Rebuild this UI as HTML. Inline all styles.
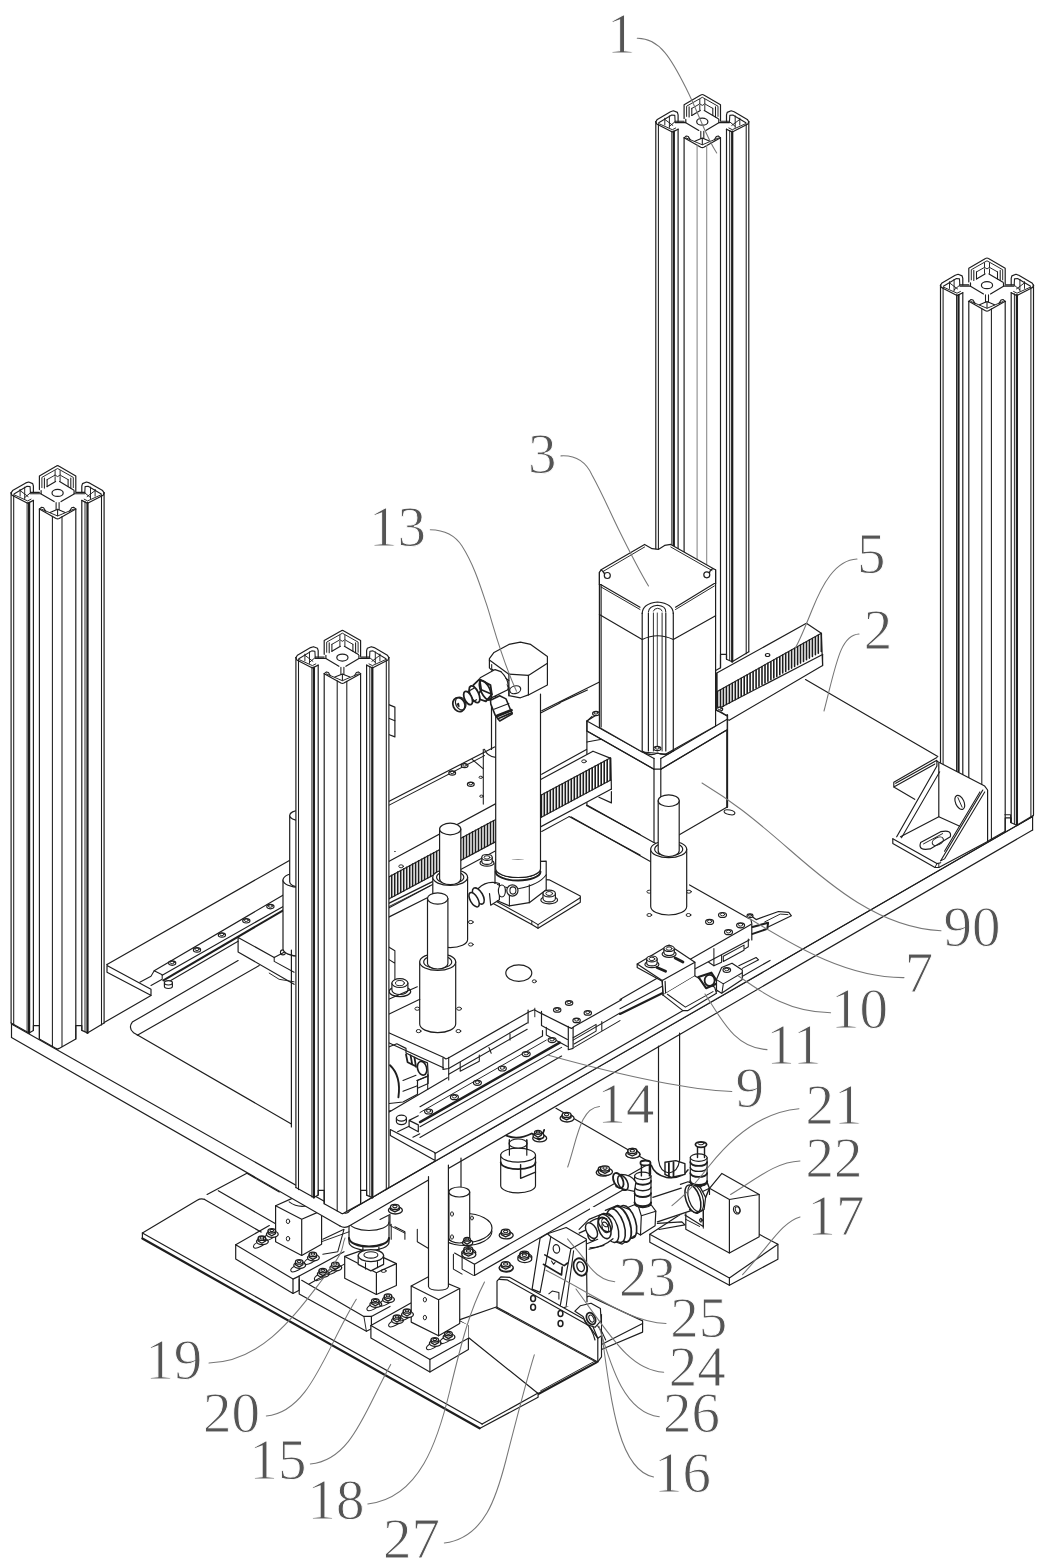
<!DOCTYPE html>
<html><head><meta charset="utf-8"><title>Figure</title>
<style>
html,body{margin:0;padding:0;background:#fff}
svg{display:block}
text{font-family:"Liberation Serif","Noto Serif CJK SC",serif}
path,ellipse{stroke-linecap:round;stroke-linejoin:round}
</style></head><body>
<svg width="1045" height="1567" viewBox="0 0 1045 1567">
<rect width="1045" height="1567" fill="#fff"/>
<path d="M142.4 1233.0 L197.2 1200.2 Q200.9 1197.9 204.6 1199.4" stroke="#1e1e1e" stroke-width="1.18" fill="none" />
<path d="M204.6 1199.4 L269.3 1236.8" stroke="#1e1e1e" stroke-width="1.18" fill="none" />
<path d="M207.1 1194.5 L246.9 1173.3 L279.3 1192.0" stroke="#1e1e1e" stroke-width="1.18" fill="none" />
<path d="M218.3 1190.7 L275.6 1223.8" stroke="#1e1e1e" stroke-width="1.18" fill="none" />
<path d="M142.4 1233.0 L142.4 1238.5" stroke="#1e1e1e" stroke-width="1.18" fill="none" />
<path d="M142.4 1233.0 L482.1 1424.1" stroke="#1e1e1e" stroke-width="1.18" fill="none" />
<path d="M142.4 1238.5 L479.6 1428.3" stroke="#1e1e1e" stroke-width="2.242" fill="none" />
<path d="M479.6 1428.4 L538.1 1397.3 L538.1 1393.0 L482.1 1424.1" stroke="#1e1e1e" stroke-width="1.18" fill="none" />
<path d="M538.8 1393.8 L596.6 1362.4" stroke="#1e1e1e" stroke-width="2.124" fill="none" />
<path d="M540.6 1390.8 L595.3 1360.9" stroke="#1e1e1e" stroke-width="0.944" fill="none" />
<path d="M468.4 1325.8 L468.4 1344.5" stroke="#1e1e1e" stroke-width="1.18" fill="none" />
<path d="M458.5 1320.1 L497.0 1306.7" stroke="#1e1e1e" stroke-width="1.18" fill="none" />
<path d="M468.4 1337.5 L538.1 1393.5" stroke="#1e1e1e" stroke-width="1.18" fill="none" />
<path d="M468.4 1325.8 L458.5 1320.1" stroke="#1e1e1e" stroke-width="1.062" fill="none" />
<path d="M468.4 1344.5 L429.9 1359.4" stroke="#1e1e1e" stroke-width="1.18" fill="none" />
<path d="M235.7 1244.7 L235.7 1259.1 L293.0 1293.5 L299.2 1290.3 L346.5 1262.9 L346.5 1251.7 L289.2 1219.3 Z" stroke="none" stroke-width="1.18" fill="#fff" />
<path d="M235.7 1244.7 L235.7 1259.1 L293.0 1293.5 L293.0 1279.1 L235.7 1244.7" stroke="#1e1e1e" stroke-width="1.18" fill="none" />
<path d="M293.0 1279.1 L299.2 1276.1 L299.2 1290.3 L293.0 1293.5" stroke="#1e1e1e" stroke-width="1.18" fill="none" />
<path d="M235.7 1244.7 L269.3 1225.6M299.2 1276.1 L344.0 1251.7" stroke="#1e1e1e" stroke-width="1.18" fill="none" />
<path d="M275.6 1205.7 L275.6 1241.7 L301.7 1255.4 L321.6 1244.2 L321.6 1210.6 L295.5 1196.9 Z" stroke="#1e1e1e" stroke-width="1.18" fill="#fff" />
<path d="M275.6 1205.7 L301.7 1219.3 L321.6 1210.6M301.7 1219.3 L301.7 1255.4" stroke="#1e1e1e" stroke-width="1.18" fill="none" />
<ellipse cx="288.0" cy="1221.3" rx="1.7" ry="2.3" transform="rotate(0 288.0 1221.3)" stroke="#1e1e1e" stroke-width="0.944" fill="none"/>
<ellipse cx="288.0" cy="1238.7" rx="1.7" ry="2.3" transform="rotate(0 288.0 1238.7)" stroke="#1e1e1e" stroke-width="0.944" fill="none"/>
<path d="M289.2 1201.9 Q299.2 1209.4 311.6 1204.4" stroke="#1e1e1e" stroke-width="1.062" fill="none" />
<ellipse cx="259.4" cy="1244.2" rx="6.5" ry="2.6" transform="rotate(-28 259.4 1244.2)" stroke="#1e1e1e" stroke-width="1.062" fill="none"/>
<ellipse cx="262.4" cy="1241.6" rx="5.9" ry="3.1" transform="rotate(0 262.4 1241.6)" stroke="#1e1e1e" stroke-width="1.298" fill="#fff"/>
<path d="M258.2 1238.2 L258.2 1241.0 L261.9 1243.2 L265.6 1241.0 L265.6 1238.2" stroke="#1e1e1e" stroke-width="1.298" fill="#fff" />
<ellipse cx="261.9" cy="1238.2" rx="3.7" ry="2.2" transform="rotate(0 261.9 1238.2)" stroke="#1e1e1e" stroke-width="1.298" fill="#fff"/>
<ellipse cx="261.9" cy="1237.9" rx="1.9" ry="1.1" transform="rotate(0 261.9 1237.9)" stroke="#1e1e1e" stroke-width="1.062" fill="none"/>
<ellipse cx="269.3" cy="1236.8" rx="6.5" ry="2.6" transform="rotate(-28 269.3 1236.8)" stroke="#1e1e1e" stroke-width="1.062" fill="none"/>
<ellipse cx="272.3" cy="1234.2" rx="5.9" ry="3.1" transform="rotate(0 272.3 1234.2)" stroke="#1e1e1e" stroke-width="1.298" fill="#fff"/>
<path d="M268.1 1230.8 L268.1 1233.6 L271.8 1235.8 L275.5 1233.6 L275.5 1230.8" stroke="#1e1e1e" stroke-width="1.298" fill="#fff" />
<ellipse cx="271.8" cy="1230.8" rx="3.7" ry="2.2" transform="rotate(0 271.8 1230.8)" stroke="#1e1e1e" stroke-width="1.298" fill="#fff"/>
<ellipse cx="271.8" cy="1230.5" rx="1.9" ry="1.1" transform="rotate(0 271.8 1230.5)" stroke="#1e1e1e" stroke-width="1.062" fill="none"/>
<ellipse cx="296.7" cy="1267.9" rx="6.5" ry="2.6" transform="rotate(-28 296.7 1267.9)" stroke="#1e1e1e" stroke-width="1.062" fill="none"/>
<ellipse cx="299.7" cy="1265.3" rx="5.9" ry="3.1" transform="rotate(0 299.7 1265.3)" stroke="#1e1e1e" stroke-width="1.298" fill="#fff"/>
<path d="M295.5 1261.9 L295.5 1264.7 L299.2 1266.9 L302.9 1264.7 L302.9 1261.9" stroke="#1e1e1e" stroke-width="1.298" fill="#fff" />
<ellipse cx="299.2" cy="1261.9" rx="3.7" ry="2.2" transform="rotate(0 299.2 1261.9)" stroke="#1e1e1e" stroke-width="1.298" fill="#fff"/>
<ellipse cx="299.2" cy="1261.6" rx="1.9" ry="1.1" transform="rotate(0 299.2 1261.6)" stroke="#1e1e1e" stroke-width="1.062" fill="none"/>
<ellipse cx="310.4" cy="1260.4" rx="6.5" ry="2.6" transform="rotate(-28 310.4 1260.4)" stroke="#1e1e1e" stroke-width="1.062" fill="none"/>
<ellipse cx="313.4" cy="1257.8" rx="5.9" ry="3.1" transform="rotate(0 313.4 1257.8)" stroke="#1e1e1e" stroke-width="1.298" fill="#fff"/>
<path d="M309.2 1254.4 L309.2 1257.2 L312.9 1259.4 L316.6 1257.2 L316.6 1254.4" stroke="#1e1e1e" stroke-width="1.298" fill="#fff" />
<ellipse cx="312.9" cy="1254.4" rx="3.7" ry="2.2" transform="rotate(0 312.9 1254.4)" stroke="#1e1e1e" stroke-width="1.298" fill="#fff"/>
<ellipse cx="312.9" cy="1254.1" rx="1.9" ry="1.1" transform="rotate(0 312.9 1254.1)" stroke="#1e1e1e" stroke-width="1.062" fill="none"/>
<ellipse cx="320.3" cy="1276.6" rx="6.5" ry="2.6" transform="rotate(-28 320.3 1276.6)" stroke="#1e1e1e" stroke-width="1.062" fill="none"/>
<ellipse cx="323.3" cy="1274.0" rx="5.9" ry="3.1" transform="rotate(0 323.3 1274.0)" stroke="#1e1e1e" stroke-width="1.298" fill="#fff"/>
<path d="M319.1 1270.6 L319.1 1273.4 L322.8 1275.6 L326.5 1273.4 L326.5 1270.6" stroke="#1e1e1e" stroke-width="1.298" fill="#fff" />
<ellipse cx="322.8" cy="1270.6" rx="3.7" ry="2.2" transform="rotate(0 322.8 1270.6)" stroke="#1e1e1e" stroke-width="1.298" fill="#fff"/>
<ellipse cx="322.8" cy="1270.3" rx="1.9" ry="1.1" transform="rotate(0 322.8 1270.3)" stroke="#1e1e1e" stroke-width="1.062" fill="none"/>
<ellipse cx="332.8" cy="1270.4" rx="6.5" ry="2.6" transform="rotate(-28 332.8 1270.4)" stroke="#1e1e1e" stroke-width="1.062" fill="none"/>
<ellipse cx="335.8" cy="1267.8" rx="5.9" ry="3.1" transform="rotate(0 335.8 1267.8)" stroke="#1e1e1e" stroke-width="1.298" fill="#fff"/>
<path d="M331.6 1264.4 L331.6 1267.2 L335.3 1269.4 L339.0 1267.2 L339.0 1264.4" stroke="#1e1e1e" stroke-width="1.298" fill="#fff" />
<ellipse cx="335.3" cy="1264.4" rx="3.7" ry="2.2" transform="rotate(0 335.3 1264.4)" stroke="#1e1e1e" stroke-width="1.298" fill="#fff"/>
<ellipse cx="335.3" cy="1264.1" rx="1.9" ry="1.1" transform="rotate(0 335.3 1264.1)" stroke="#1e1e1e" stroke-width="1.062" fill="none"/>
<path d="M299.2 1279.1 L299.2 1294.0 L366.4 1331.3 L371.4 1328.8 L371.4 1316.4" stroke="#1e1e1e" stroke-width="1.18" fill="none" />
<path d="M301.7 1280.3 L363.9 1316.4 L371.4 1316.4 L390.0 1306.4" stroke="#1e1e1e" stroke-width="1.18" fill="none" />
<path d="M363.9 1316.4 L366.4 1331.3" stroke="#1e1e1e" stroke-width="0.944" fill="none" />
<path d="M309.1 1284.0 L346.5 1262.9" stroke="#1e1e1e" stroke-width="1.062" fill="none" />
<path d="M344.7 1256.4 L344.7 1278.2 L376.4 1294.5 L396.4 1285.5 L396.4 1263.6 L365.5 1249.1 Z" stroke="#1e1e1e" stroke-width="1.18" fill="#fff" />
<path d="M344.7 1256.4 L376.4 1272.7 L396.4 1263.6M376.4 1272.7 L376.4 1294.5" stroke="#1e1e1e" stroke-width="1.18" fill="none" />
<path d="M349.0 1216.0 L349.0 1242.0 A20.0 8.5 0 0 0 389.0 1242.0 L389.0 1216.0" stroke="#1e1e1e" stroke-width="1.18" fill="#fff" />
<path d="M349 1238 A20 8.5 0 0 0 389 1238" stroke="#1e1e1e" stroke-width="2.124" fill="none" />
<path d="M349 1222 A20 8.5 0 0 0 389 1222" stroke="#1e1e1e" stroke-width="1.062" fill="none" />
<path d="M362.9 1247.3 L362.9 1254.5M378.9 1247.3 L378.9 1254.5" stroke="#1e1e1e" stroke-width="1.18" fill="none" />
<path d="M358.2 1255.6 L358.2 1264.4 L370.9 1270.9 L383.6 1264.4 L383.6 1255.6" stroke="#1e1e1e" stroke-width="1.18" fill="#fff" />
<ellipse cx="370.9" cy="1255.6" rx="12.7" ry="6.0" transform="rotate(0 370.9 1255.6)" stroke="#1e1e1e" stroke-width="1.18" fill="#fff"/>
<ellipse cx="370.9" cy="1254.9" rx="7.0" ry="3.2" transform="rotate(0 370.9 1254.9)" stroke="#1e1e1e" stroke-width="1.062" fill="none"/>
<path d="M365.5 1262.9 L365.5 1269.1M377.5 1261.5 L377.5 1267.6" stroke="#1e1e1e" stroke-width="1.062" fill="none" />
<ellipse cx="383.6" cy="1270.9" rx="2.6" ry="1.5" transform="rotate(0 383.6 1270.9)" stroke="#1e1e1e" stroke-width="0.944" fill="none"/>
<ellipse cx="372.8" cy="1306.8" rx="6.5" ry="2.6" transform="rotate(-28 372.8 1306.8)" stroke="#1e1e1e" stroke-width="1.062" fill="none"/>
<ellipse cx="375.8" cy="1304.2" rx="5.9" ry="3.1" transform="rotate(0 375.8 1304.2)" stroke="#1e1e1e" stroke-width="1.298" fill="#fff"/>
<path d="M371.6 1300.8 L371.6 1303.6 L375.3 1305.8 L379.0 1303.6 L379.0 1300.8" stroke="#1e1e1e" stroke-width="1.298" fill="#fff" />
<ellipse cx="375.3" cy="1300.8" rx="3.7" ry="2.2" transform="rotate(0 375.3 1300.8)" stroke="#1e1e1e" stroke-width="1.298" fill="#fff"/>
<ellipse cx="375.3" cy="1300.5" rx="1.9" ry="1.1" transform="rotate(0 375.3 1300.5)" stroke="#1e1e1e" stroke-width="1.062" fill="none"/>
<ellipse cx="385.5" cy="1302.1" rx="6.5" ry="2.6" transform="rotate(-28 385.5 1302.1)" stroke="#1e1e1e" stroke-width="1.062" fill="none"/>
<ellipse cx="388.5" cy="1299.5" rx="5.9" ry="3.1" transform="rotate(0 388.5 1299.5)" stroke="#1e1e1e" stroke-width="1.298" fill="#fff"/>
<path d="M384.3 1296.1 L384.3 1298.9 L388.0 1301.1 L391.7 1298.9 L391.7 1296.1" stroke="#1e1e1e" stroke-width="1.298" fill="#fff" />
<ellipse cx="388.0" cy="1296.1" rx="3.7" ry="2.2" transform="rotate(0 388.0 1296.1)" stroke="#1e1e1e" stroke-width="1.298" fill="#fff"/>
<ellipse cx="388.0" cy="1295.8" rx="1.9" ry="1.1" transform="rotate(0 388.0 1295.8)" stroke="#1e1e1e" stroke-width="1.062" fill="none"/>
<path d="M322.8 1239.2 L344.0 1229.3 L337.8 1251.7 L322.8 1254.2" stroke="#1e1e1e" stroke-width="1.062" fill="none" />
<path d="M321.6 1241.7 L349.0 1231.8" stroke="#1e1e1e" stroke-width="0.944" fill="none" />
<path d="M370.9 1325.5 L370.9 1338.0 L429.9 1372.0 L468.4 1349.5 L468.4 1325.0 L410.9 1301.8 Z" stroke="none" stroke-width="1.18" fill="#fff" />
<path d="M370.9 1325.5 L429.9 1359.4 L468.4 1338.3" stroke="#1e1e1e" stroke-width="1.18" fill="none" />
<path d="M429.9 1359.4 L429.9 1372.0" stroke="#1e1e1e" stroke-width="1.18" fill="none" />
<path d="M370.9 1325.5 L370.9 1338.0 L429.9 1372.0 L468.4 1349.5 L468.4 1338.3" stroke="#1e1e1e" stroke-width="1.18" fill="none" />
<path d="M370.9 1325.5 L410.9 1303.0" stroke="#1e1e1e" stroke-width="1.18" fill="none" />
<path d="M411.2 1286.0 L411.2 1322.1 L438.6 1335.8 L459.7 1323.4 L459.7 1288.5 L429.9 1276.1 Z" stroke="#1e1e1e" stroke-width="1.18" fill="#fff" />
<path d="M411.2 1286.0 L438.6 1299.7 L459.7 1288.5M438.6 1299.7 L438.6 1335.8" stroke="#1e1e1e" stroke-width="1.18" fill="none" />
<ellipse cx="424.9" cy="1299.7" rx="1.6" ry="2.3" transform="rotate(0 424.9 1299.7)" stroke="#1e1e1e" stroke-width="0.944" fill="none"/>
<ellipse cx="424.9" cy="1317.6" rx="1.6" ry="2.3" transform="rotate(0 424.9 1317.6)" stroke="#1e1e1e" stroke-width="0.944" fill="none"/>
<ellipse cx="432.3" cy="1345.8" rx="6.5" ry="2.6" transform="rotate(-28 432.3 1345.8)" stroke="#1e1e1e" stroke-width="1.062" fill="none"/>
<ellipse cx="435.3" cy="1343.2" rx="5.9" ry="3.1" transform="rotate(0 435.3 1343.2)" stroke="#1e1e1e" stroke-width="1.298" fill="#fff"/>
<path d="M431.1 1339.8 L431.1 1342.6 L434.8 1344.8 L438.5 1342.6 L438.5 1339.8" stroke="#1e1e1e" stroke-width="1.298" fill="#fff" />
<ellipse cx="434.8" cy="1339.8" rx="3.7" ry="2.2" transform="rotate(0 434.8 1339.8)" stroke="#1e1e1e" stroke-width="1.298" fill="#fff"/>
<ellipse cx="434.8" cy="1339.5" rx="1.9" ry="1.1" transform="rotate(0 434.8 1339.5)" stroke="#1e1e1e" stroke-width="1.062" fill="none"/>
<ellipse cx="446.0" cy="1339.6" rx="6.5" ry="2.6" transform="rotate(-28 446.0 1339.6)" stroke="#1e1e1e" stroke-width="1.062" fill="none"/>
<ellipse cx="449.0" cy="1337.0" rx="5.9" ry="3.1" transform="rotate(0 449.0 1337.0)" stroke="#1e1e1e" stroke-width="1.298" fill="#fff"/>
<path d="M444.8 1333.6 L444.8 1336.4 L448.5 1338.6 L452.2 1336.4 L452.2 1333.6" stroke="#1e1e1e" stroke-width="1.298" fill="#fff" />
<ellipse cx="448.5" cy="1333.6" rx="3.7" ry="2.2" transform="rotate(0 448.5 1333.6)" stroke="#1e1e1e" stroke-width="1.298" fill="#fff"/>
<ellipse cx="448.5" cy="1333.3" rx="1.9" ry="1.1" transform="rotate(0 448.5 1333.3)" stroke="#1e1e1e" stroke-width="1.062" fill="none"/>
<ellipse cx="394.5" cy="1323.0" rx="6.5" ry="2.6" transform="rotate(-28 394.5 1323.0)" stroke="#1e1e1e" stroke-width="1.062" fill="none"/>
<ellipse cx="397.5" cy="1320.4" rx="5.9" ry="3.1" transform="rotate(0 397.5 1320.4)" stroke="#1e1e1e" stroke-width="1.298" fill="#fff"/>
<path d="M393.3 1317.0 L393.3 1319.8 L397.0 1322.0 L400.7 1319.8 L400.7 1317.0" stroke="#1e1e1e" stroke-width="1.298" fill="#fff" />
<ellipse cx="397.0" cy="1317.0" rx="3.7" ry="2.2" transform="rotate(0 397.0 1317.0)" stroke="#1e1e1e" stroke-width="1.298" fill="#fff"/>
<ellipse cx="397.0" cy="1316.7" rx="1.9" ry="1.1" transform="rotate(0 397.0 1316.7)" stroke="#1e1e1e" stroke-width="1.062" fill="none"/>
<ellipse cx="404.5" cy="1317.0" rx="6.5" ry="2.6" transform="rotate(-28 404.5 1317.0)" stroke="#1e1e1e" stroke-width="1.062" fill="none"/>
<ellipse cx="407.5" cy="1314.4" rx="5.9" ry="3.1" transform="rotate(0 407.5 1314.4)" stroke="#1e1e1e" stroke-width="1.298" fill="#fff"/>
<path d="M403.3 1311.0 L403.3 1313.8 L407.0 1316.0 L410.7 1313.8 L410.7 1311.0" stroke="#1e1e1e" stroke-width="1.298" fill="#fff" />
<ellipse cx="407.0" cy="1311.0" rx="3.7" ry="2.2" transform="rotate(0 407.0 1311.0)" stroke="#1e1e1e" stroke-width="1.298" fill="#fff"/>
<ellipse cx="407.0" cy="1310.7" rx="1.9" ry="1.1" transform="rotate(0 407.0 1310.7)" stroke="#1e1e1e" stroke-width="1.062" fill="none"/>
<path d="M649.8 1234.3 L649.8 1242.3 L729.4 1285.3 L777.9 1259.2 L777.9 1244.3 L759.2 1234.3 L699.5 1202.0 Z" stroke="#1e1e1e" stroke-width="1.18" fill="#fff" />
<path d="M649.8 1234.3 L729.4 1277.9 L777.9 1244.3M729.4 1277.9 L729.4 1285.3" stroke="#1e1e1e" stroke-width="1.18" fill="none" />
<path d="M709.5 1188.3 L685.8 1199.5 L685.8 1229.3 L729.4 1253.0 L759.2 1236.8 L759.2 1194.5 L721.9 1173.4 Z" stroke="#1e1e1e" stroke-width="1.18" fill="#fff" />
<path d="M709.5 1188.3 L729.4 1199.5 L759.2 1194.5M729.4 1199.5 L729.4 1253.0M709.5 1188.3 L709.5 1194.5" stroke="#1e1e1e" stroke-width="1.18" fill="none" />
<ellipse cx="736.8" cy="1209.9" rx="3.2" ry="4.2" transform="rotate(-20 736.8 1209.9)" stroke="#1e1e1e" stroke-width="1.18" fill="none"/>
<ellipse cx="737.6" cy="1209.9" rx="2.2" ry="3.2" transform="rotate(-20 737.6 1209.9)" stroke="#1e1e1e" stroke-width="0.944" fill="none"/>
<path d="M685.8 1199.5 L703.3 1206.9 L703.3 1228.1M685.8 1219.4 L699.5 1226.4" stroke="#1e1e1e" stroke-width="1.062" fill="none" />
<ellipse cx="700.8" cy="1219.9" rx="1.2" ry="1.6" transform="rotate(0 700.8 1219.9)" stroke="#1e1e1e" stroke-width="0.944" fill="none"/>
<path d="M474.5 1264.2 L474.5 1275.4 L650.6 1174.0 L650.6 1162.8 L556.0 1108.2 L454.6 1194.5 Z" stroke="none" stroke-width="1.18" fill="#fff" />
<path d="M454.6 1253.0 L474.5 1264.2 L650.6 1162.8M474.5 1264.2 L474.5 1275.4 L650.6 1174.0 L650.6 1162.8" stroke="#1e1e1e" stroke-width="1.18" fill="none" />
<path d="M556.0 1108.2 L650.6 1162.8" stroke="#1e1e1e" stroke-width="1.18" fill="none" />
<path d="M462.1 1251.7 L462.1 1269.1 L473.3 1275.4" stroke="#1e1e1e" stroke-width="1.062" fill="none" />
<path d="M453.4 1254.2 L453.4 1269.1 L462.1 1274.1" stroke="#1e1e1e" stroke-width="1.062" fill="none" />
<ellipse cx="468.8" cy="1252.6" rx="7.0" ry="3.7" transform="rotate(0 468.8 1252.6)" stroke="#1e1e1e" stroke-width="1.298" fill="#fff"/>
<path d="M463.9 1249.2 L463.9 1252.0 L468.3 1254.2 L472.7 1252.0 L472.7 1249.2" stroke="#1e1e1e" stroke-width="1.298" fill="#fff" />
<ellipse cx="468.3" cy="1249.2" rx="4.4" ry="2.6" transform="rotate(0 468.3 1249.2)" stroke="#1e1e1e" stroke-width="1.298" fill="#fff"/>
<ellipse cx="468.3" cy="1248.9" rx="2.2" ry="1.3" transform="rotate(0 468.3 1248.9)" stroke="#1e1e1e" stroke-width="1.062" fill="none"/>
<ellipse cx="506.2" cy="1235.2" rx="7.0" ry="3.7" transform="rotate(0 506.2 1235.2)" stroke="#1e1e1e" stroke-width="1.298" fill="#fff"/>
<path d="M501.3 1231.8 L501.3 1234.6 L505.7 1236.8 L510.1 1234.6 L510.1 1231.8" stroke="#1e1e1e" stroke-width="1.298" fill="#fff" />
<ellipse cx="505.7" cy="1231.8" rx="4.4" ry="2.6" transform="rotate(0 505.7 1231.8)" stroke="#1e1e1e" stroke-width="1.298" fill="#fff"/>
<ellipse cx="505.7" cy="1231.5" rx="2.2" ry="1.3" transform="rotate(0 505.7 1231.5)" stroke="#1e1e1e" stroke-width="1.062" fill="none"/>
<ellipse cx="603.2" cy="1172.5" rx="7.0" ry="3.7" transform="rotate(0 603.2 1172.5)" stroke="#1e1e1e" stroke-width="1.298" fill="#fff"/>
<path d="M598.3 1169.1 L598.3 1171.9 L602.7 1174.1 L607.1 1171.9 L607.1 1169.1" stroke="#1e1e1e" stroke-width="1.298" fill="#fff" />
<ellipse cx="602.7" cy="1169.1" rx="4.4" ry="2.6" transform="rotate(0 602.7 1169.1)" stroke="#1e1e1e" stroke-width="1.298" fill="#fff"/>
<ellipse cx="602.7" cy="1168.8" rx="2.2" ry="1.3" transform="rotate(0 602.7 1168.8)" stroke="#1e1e1e" stroke-width="1.062" fill="none"/>
<ellipse cx="633.1" cy="1154.4" rx="7.0" ry="3.7" transform="rotate(0 633.1 1154.4)" stroke="#1e1e1e" stroke-width="1.298" fill="#fff"/>
<path d="M628.2 1151.0 L628.2 1153.8 L632.6 1156.0 L637.0 1153.8 L637.0 1151.0" stroke="#1e1e1e" stroke-width="1.298" fill="#fff" />
<ellipse cx="632.6" cy="1151.0" rx="4.4" ry="2.6" transform="rotate(0 632.6 1151.0)" stroke="#1e1e1e" stroke-width="1.298" fill="#fff"/>
<ellipse cx="632.6" cy="1150.7" rx="2.2" ry="1.3" transform="rotate(0 632.6 1150.7)" stroke="#1e1e1e" stroke-width="1.062" fill="none"/>
<ellipse cx="567.1" cy="1118.3" rx="7.0" ry="3.7" transform="rotate(0 567.1 1118.3)" stroke="#1e1e1e" stroke-width="1.298" fill="#fff"/>
<path d="M562.2 1114.9 L562.2 1117.7 L566.6 1119.9 L571.0 1117.7 L571.0 1114.9" stroke="#1e1e1e" stroke-width="1.298" fill="#fff" />
<ellipse cx="566.6" cy="1114.9" rx="4.4" ry="2.6" transform="rotate(0 566.6 1114.9)" stroke="#1e1e1e" stroke-width="1.298" fill="#fff"/>
<ellipse cx="566.6" cy="1114.6" rx="2.2" ry="1.3" transform="rotate(0 566.6 1114.6)" stroke="#1e1e1e" stroke-width="1.062" fill="none"/>
<ellipse cx="539.7" cy="1138.2" rx="7.0" ry="3.7" transform="rotate(0 539.7 1138.2)" stroke="#1e1e1e" stroke-width="1.298" fill="#fff"/>
<path d="M534.8 1134.8 L534.8 1137.6 L539.2 1139.8 L543.6 1137.6 L543.6 1134.8" stroke="#1e1e1e" stroke-width="1.298" fill="#fff" />
<ellipse cx="539.2" cy="1134.8" rx="4.4" ry="2.6" transform="rotate(0 539.2 1134.8)" stroke="#1e1e1e" stroke-width="1.298" fill="#fff"/>
<ellipse cx="539.2" cy="1134.5" rx="2.2" ry="1.3" transform="rotate(0 539.2 1134.5)" stroke="#1e1e1e" stroke-width="1.062" fill="none"/>
<ellipse cx="632.8" cy="1154.4" rx="7.0" ry="3.7" transform="rotate(0 632.8 1154.4)" stroke="#1e1e1e" stroke-width="1.298" fill="#fff"/>
<path d="M627.9 1151.0 L627.9 1153.8 L632.3 1156.0 L636.7 1153.8 L636.7 1151.0" stroke="#1e1e1e" stroke-width="1.298" fill="#fff" />
<ellipse cx="632.3" cy="1151.0" rx="4.4" ry="2.6" transform="rotate(0 632.3 1151.0)" stroke="#1e1e1e" stroke-width="1.298" fill="#fff"/>
<ellipse cx="632.3" cy="1150.7" rx="2.2" ry="1.3" transform="rotate(0 632.3 1150.7)" stroke="#1e1e1e" stroke-width="1.062" fill="none"/>
<ellipse cx="605.5" cy="1171.8" rx="7.0" ry="3.7" transform="rotate(0 605.5 1171.8)" stroke="#1e1e1e" stroke-width="1.298" fill="#fff"/>
<path d="M600.6 1168.4 L600.6 1171.2 L605.0 1173.4 L609.4 1171.2 L609.4 1168.4" stroke="#1e1e1e" stroke-width="1.298" fill="#fff" />
<ellipse cx="605.0" cy="1168.4" rx="4.4" ry="2.6" transform="rotate(0 605.0 1168.4)" stroke="#1e1e1e" stroke-width="1.298" fill="#fff"/>
<ellipse cx="605.0" cy="1168.1" rx="2.2" ry="1.3" transform="rotate(0 605.0 1168.1)" stroke="#1e1e1e" stroke-width="1.062" fill="none"/>
<path d="M500.7 1154.7 L500.7 1185.8 A17.4 7 0 0 0 535.5 1185.8L535.5 1185.8 L535.5 1154.7" stroke="#1e1e1e" stroke-width="1.18" fill="#fff" />
<path d="M500.7 1162.2 A17.4 7 0 0 0 535.5 1162.2" stroke="#1e1e1e" stroke-width="1.77" fill="none" />
<path d="M509.4 1139.8 L509.4 1158.4M526.8 1139.8 L526.8 1158.4" stroke="#1e1e1e" stroke-width="1.18" fill="none" />
<ellipse cx="518.1" cy="1155.2" rx="17.4" ry="7.0" transform="rotate(0 518.1 1155.2)" stroke="#1e1e1e" stroke-width="1.18" fill="#fff"/>
<ellipse cx="518.1" cy="1143.5" rx="9.0" ry="4.5" transform="rotate(0 518.1 1143.5)" stroke="#1e1e1e" stroke-width="1.18" fill="#fff"/>
<path d="M509.4 1139.8 L509.4 1155.2M526.8 1139.8 L526.8 1155.2" stroke="#1e1e1e" stroke-width="1.18" fill="none" />
<path d="M520.6 1164.6 L520.6 1178.3 L535.5 1172.1" stroke="#1e1e1e" stroke-width="1.416" fill="none" />
<path d="M504.4 1134.8 Q516.8 1141.0 531.8 1133.5 Q541.7 1139.8 544.2 1129.8" stroke="#1e1e1e" stroke-width="1.77" fill="none" />
<ellipse cx="538.5" cy="1135.7" rx="5.4" ry="2.9" transform="rotate(0 538.5 1135.7)" stroke="#1e1e1e" stroke-width="1.298" fill="#fff"/>
<path d="M534.6 1132.3 L534.6 1135.1 L538.0 1137.3 L541.4 1135.1 L541.4 1132.3" stroke="#1e1e1e" stroke-width="1.298" fill="#fff" />
<ellipse cx="538.0" cy="1132.3" rx="3.4" ry="2.0" transform="rotate(0 538.0 1132.3)" stroke="#1e1e1e" stroke-width="1.298" fill="#fff"/>
<ellipse cx="538.0" cy="1132.0" rx="1.7" ry="1.0" transform="rotate(0 538.0 1132.0)" stroke="#1e1e1e" stroke-width="1.062" fill="none"/>
<path d="M684.9 1215.0 L703.3 1226.5 L703.3 1208.1M657.4 1223.4 L681.9 1221.9 L684.9 1224.9 L658.9 1229.5" stroke="#1e1e1e" stroke-width="1.18" fill="none" />
<ellipse cx="701.0" cy="1220.4" rx="1.3" ry="1.8" transform="rotate(0 701.0 1220.4)" stroke="#1e1e1e" stroke-width="0.944" fill="none"/>
<path d="M652.8 1197.4 L688.0 1185.9 L697.2 1209.6 L657.4 1221.9 Z" stroke="none" stroke-width="1.18" fill="#fff" />
<path d="M652.8 1197.4 L688.0 1185.9M657.4 1221.9 L694.1 1209.6" stroke="#1e1e1e" stroke-width="1.18" fill="none" />
<path d="M680.4 1184.4 L688.0 1181.8 L700.3 1187.4 L705.6 1197.4 L704.1 1209.6 L697.2 1213.5 L689.5 1209.6" stroke="#1e1e1e" stroke-width="1.18" fill="#fff" />
<ellipse cx="692.9" cy="1198.9" rx="7.0" ry="14.5" transform="rotate(-18 692.9 1198.9)" stroke="#1e1e1e" stroke-width="1.534" fill="#fff"/>
<ellipse cx="695.7" cy="1198.1" rx="7.0" ry="14.0" transform="rotate(-18 695.7 1198.1)" stroke="#1e1e1e" stroke-width="1.18" fill="none"/>
<path d="M705.6 1197.4 L709.4 1188.2 L706.4 1180.5M700.3 1187.4 L706.4 1180.5" stroke="#1e1e1e" stroke-width="1.416" fill="none" />
<path d="M628.3 1207.3 L637.5 1203.5 L651.3 1205.0 L655.8 1211.2 L655.1 1225.7 L640.5 1234.9 L631.3 1229.5 Z" stroke="#1e1e1e" stroke-width="1.18" fill="#fff" />
<path d="M637.5 1203.5 L641.3 1215.8 L655.8 1211.2M641.3 1215.8 L640.5 1234.9" stroke="#1e1e1e" stroke-width="1.18" fill="none" />
<ellipse cx="627.5" cy="1221.9" rx="8.0" ry="17.0" transform="rotate(-18 627.5 1221.9)" stroke="#1e1e1e" stroke-width="1.652" fill="#fff"/>
<path d="M605.3 1210.4 L617.6 1205.3 L630.1 1209.6M613.0 1241.0 L622.2 1244.1 L634.4 1235.7" stroke="#1e1e1e" stroke-width="1.18" fill="none" />
<ellipse cx="621.4" cy="1224.2" rx="8.5" ry="18.5" transform="rotate(-18 621.4 1224.2)" stroke="#1e1e1e" stroke-width="1.77" fill="#fff"/>
<ellipse cx="616.0" cy="1225.7" rx="8.0" ry="17.5" transform="rotate(-18 616.0 1225.7)" stroke="#1e1e1e" stroke-width="1.534" fill="#fff"/>
<ellipse cx="610.7" cy="1228.0" rx="7.0" ry="15.0" transform="rotate(-18 610.7 1228.0)" stroke="#1e1e1e" stroke-width="1.416" fill="#fff"/>
<path d="M590.0 1215.8 L590.0 1205.0 L608.4 1215.8 L614.5 1237.2 L599.2 1249.4 L590.0 1247.9 Z" stroke="none" stroke-width="1.18" fill="#fff" />
<ellipse cx="604.5" cy="1228.0" rx="6.0" ry="11.0" transform="rotate(-18 604.5 1228.0)" stroke="#1e1e1e" stroke-width="1.534" fill="#fff"/>
<ellipse cx="605.3" cy="1227.4" rx="3.0" ry="5.5" transform="rotate(-18 605.3 1227.4)" stroke="#1e1e1e" stroke-width="1.18" fill="none"/>
<path d="M590.0 1221.9 Q599.2 1215.8 606.8 1218.8" stroke="#1e1e1e" stroke-width="1.18" fill="none" />
<path d="M590.0 1247.9 Q602.3 1247.9 613.0 1238.7" stroke="#1e1e1e" stroke-width="1.18" fill="none" />
<ellipse cx="591.5" cy="1235.7" rx="3.5" ry="5.0" transform="rotate(-18 591.5 1235.7)" stroke="#1e1e1e" stroke-width="1.416" fill="none"/>
<path d="M579.1 1233.1 L594.0 1226.4M582.8 1245.5 L597.7 1239.3" stroke="#1e1e1e" stroke-width="1.18" fill="none" />
<ellipse cx="591.5" cy="1230.6" rx="5.0" ry="8.5" transform="rotate(-30 591.5 1230.6)" stroke="#1e1e1e" stroke-width="1.416" fill="#fff"/>
<path d="M579.1 1229.3 L589.0 1219.4 L603.9 1213.2 L612.6 1216.9M589.0 1249.2 L603.9 1245.5" stroke="#1e1e1e" stroke-width="1.18" fill="none" />
<ellipse cx="605.2" cy="1223.1" rx="6.0" ry="9.5" transform="rotate(-30 605.2 1223.1)" stroke="#1e1e1e" stroke-width="1.534" fill="none"/>
<ellipse cx="605.2" cy="1222.6" rx="3.0" ry="4.5" transform="rotate(-30 605.2 1222.6)" stroke="#1e1e1e" stroke-width="1.062" fill="none"/>
<path d="M634.6 1175.9 L634.6 1203.9 A8.2 3.7 0 0 0 651.0 1203.9 L651.0 1175.9 Z" stroke="#1e1e1e" stroke-width="1.18" fill="#fff" />
<path d="M634.6 1181.0 A8.2 3.7 0 0 0 651.0 1181.0" stroke="#1e1e1e" stroke-width="1.888" fill="none" />
<path d="M634.6 1187.1 A8.2 3.7 0 0 0 651.0 1187.1" stroke="#1e1e1e" stroke-width="1.416" fill="none" />
<path d="M634.6 1193.3 A8.2 3.7 0 0 0 651.0 1193.3" stroke="#1e1e1e" stroke-width="1.888" fill="none" />
<path d="M634.6 1202.5 A8.2 3.7 0 0 0 651.0 1202.5" stroke="#1e1e1e" stroke-width="2.124" fill="none" />
<ellipse cx="642.8" cy="1175.9" rx="8.2" ry="3.7" transform="rotate(0 642.8 1175.9)" stroke="#1e1e1e" stroke-width="1.18" fill="#fff"/>
<path d="M641.4 1175.9 L641.4 1163.9 M649.4 1175.9 L649.4 1163.9" stroke="#1e1e1e" stroke-width="1.416" fill="none" />
<ellipse cx="645.4" cy="1162.9" rx="5.0" ry="2.4" transform="rotate(0 645.4 1162.9)" stroke="#1e1e1e" stroke-width="1.77" fill="#fff"/>
<path d="M690.3 1157.6 L690.3 1182.6 A8.4 3.8 0 0 0 707.1 1182.6 L707.1 1157.6 Z" stroke="#1e1e1e" stroke-width="1.18" fill="#fff" />
<path d="M690.3 1162.1 A8.4 3.8 0 0 0 707.1 1162.1" stroke="#1e1e1e" stroke-width="1.888" fill="none" />
<path d="M690.3 1167.6 A8.4 3.8 0 0 0 707.1 1167.6" stroke="#1e1e1e" stroke-width="1.416" fill="none" />
<path d="M690.3 1173.1 A8.4 3.8 0 0 0 707.1 1173.1" stroke="#1e1e1e" stroke-width="1.888" fill="none" />
<path d="M690.3 1181.3 A8.4 3.8 0 0 0 707.1 1181.3" stroke="#1e1e1e" stroke-width="2.124" fill="none" />
<ellipse cx="698.7" cy="1157.6" rx="8.4" ry="3.8" transform="rotate(0 698.7 1157.6)" stroke="#1e1e1e" stroke-width="1.18" fill="#fff"/>
<path d="M697.5 1157.6 L697.5 1145.6 M704.5 1157.6 L704.5 1145.6" stroke="#1e1e1e" stroke-width="1.416" fill="none" />
<ellipse cx="701.0" cy="1144.6" rx="5.6" ry="2.8" transform="rotate(0 701.0 1144.6)" stroke="#1e1e1e" stroke-width="1.77" fill="#fff"/>
<ellipse cx="701.0" cy="1143.6" rx="3.0" ry="1.2" transform="rotate(0 701.0 1143.6)" stroke="#1e1e1e" stroke-width="0.944" fill="none"/>
<path d="M620.6 1174.4 Q631.3 1174.4 635.9 1182.1 L634.4 1191.3 Q625.2 1189.7 616.0 1186.7 Z" stroke="#1e1e1e" stroke-width="1.18" fill="#fff" />
<ellipse cx="618.3" cy="1180.5" rx="4.5" ry="8.0" transform="rotate(-25 618.3 1180.5)" stroke="#1e1e1e" stroke-width="1.888" fill="#fff"/>
<ellipse cx="622.9" cy="1182.8" rx="4.5" ry="8.0" transform="rotate(-25 622.9 1182.8)" stroke="#1e1e1e" stroke-width="1.534" fill="none"/>
<path d="M651.3 1165.2 Q654.3 1174.4 666.6 1177.5 Q681.9 1179.0 688.0 1169.8" stroke="#1e1e1e" stroke-width="1.534" fill="none" />
<path d="M665.0 1162.2 L665.0 1174.4 L671.2 1177.5 L684.9 1174.4 L684.9 1163.7 L675.8 1160.6 L665.0 1162.2" stroke="#1e1e1e" stroke-width="1.416" fill="#fff" />
<path d="M668.9 1162.9 L668.9 1175.9M673.5 1162.2 L673.5 1176.7" stroke="#1e1e1e" stroke-width="1.77" fill="none" />
<path d="M589.1 1296.0 L642.6 1320.9 L642.6 1332.1 L601.5 1349.5 L597.8 1344.5 L549.3 1314.6 Z" stroke="#1e1e1e" stroke-width="1.18" fill="#fff" />
<path d="M601.5 1344.5 L642.6 1323.4" stroke="#1e1e1e" stroke-width="1.18" fill="none" />
<path d="M601.5 1314.6 L601.5 1349.5" stroke="#1e1e1e" stroke-width="1.062" fill="none" />
<path d="M497.0 1281.1 L497.0 1307.2 L597.8 1361.9 L601.5 1356.9 L601.5 1335.8 L597.8 1338.3 L591.6 1323.4 L509.5 1277.3 L500.8 1276.8 Z" stroke="#1e1e1e" stroke-width="1.18" fill="#fff" />
<path d="M499.5 1279.3 L507.0 1279.8 L589.1 1325.8 L597.8 1338.3 L597.8 1361.9" stroke="#1e1e1e" stroke-width="1.18" fill="none" />
<path d="M495.8 1307.7 L596.6 1362.4" stroke="#1e1e1e" stroke-width="1.062" fill="none" />
<ellipse cx="533.1" cy="1298.5" rx="2.4" ry="3.0" transform="rotate(0 533.1 1298.5)" stroke="#1e1e1e" stroke-width="1.534" fill="none"/>
<ellipse cx="533.1" cy="1307.2" rx="2.4" ry="3.0" transform="rotate(0 533.1 1307.2)" stroke="#1e1e1e" stroke-width="1.534" fill="none"/>
<ellipse cx="560.5" cy="1313.4" rx="2.4" ry="3.0" transform="rotate(0 560.5 1313.4)" stroke="#1e1e1e" stroke-width="1.534" fill="none"/>
<ellipse cx="560.5" cy="1323.4" rx="2.4" ry="3.0" transform="rotate(0 560.5 1323.4)" stroke="#1e1e1e" stroke-width="1.534" fill="none"/>
<path d="M540.1 1238.2 L547.5 1233.8 L566.2 1227.5 L586.3 1238.9 L587.0 1301.8 L576.3 1307.2 L560.2 1305.8 L566.9 1275.0 L540.1 1292.4 L532.1 1289.1 Z" stroke="none" stroke-width="1.18" fill="#fff" />
<path d="M532.1 1289.1 L540.1 1238.2 L547.5 1233.8 L566.2 1227.5 L586.3 1238.9 L587.0 1301.8" stroke="#1e1e1e" stroke-width="1.18" fill="none" />
<path d="M547.5 1233.8 L550.8 1236.8 L540.1 1292.4M540.1 1292.4 L532.1 1289.1" stroke="#1e1e1e" stroke-width="1.18" fill="none" />
<path d="M550.8 1236.8 L570.9 1248.9 L586.3 1240.2M570.9 1248.9 L560.2 1305.8" stroke="#1e1e1e" stroke-width="1.18" fill="none" />
<path d="M573.6 1250.9 L566.2 1305.8" stroke="#1e1e1e" stroke-width="1.062" fill="none" />
<path d="M544.8 1254.9 L564.2 1265.6 L567.6 1263.0M543.4 1264.3 L561.5 1275.0 L562.2 1267.0" stroke="#1e1e1e" stroke-width="1.652" fill="none" />
<path d="M548.8 1293.8 L552.2 1291.1 L558.9 1292.4 L558.9 1299.1" stroke="#1e1e1e" stroke-width="1.062" fill="none" />
<ellipse cx="556.4" cy="1248.9" rx="3.2" ry="4.3" transform="rotate(-10 556.4 1248.9)" stroke="#1e1e1e" stroke-width="1.18" fill="none"/>
<path d="M551.5 1261.0 L553.5 1264.3 L555.1 1262.3" stroke="#1e1e1e" stroke-width="1.062" fill="none" />
<ellipse cx="580.3" cy="1267.0" rx="6.5" ry="9.0" transform="rotate(-20 580.3 1267.0)" stroke="#1e1e1e" stroke-width="1.888" fill="#fff"/>
<ellipse cx="580.6" cy="1266.7" rx="3.5" ry="5.0" transform="rotate(-20 580.6 1266.7)" stroke="#1e1e1e" stroke-width="1.416" fill="none"/>
<path d="M574.9 1311.2 L580.3 1305.8 L591.0 1303.2 L600.4 1308.5 L601.1 1320.6 L595.0 1327.3 L587.0 1324.6 L583.0 1316.6 Z" stroke="#1e1e1e" stroke-width="1.18" fill="#fff" />
<ellipse cx="591.0" cy="1318.6" rx="4.2" ry="6.2" transform="rotate(-25 591.0 1318.6)" stroke="#1e1e1e" stroke-width="1.77" fill="#fff"/>
<ellipse cx="591.4" cy="1318.6" rx="2.2" ry="3.8" transform="rotate(-25 591.4 1318.6)" stroke="#1e1e1e" stroke-width="1.062" fill="none"/>
<path d="M584.3 1320.6 Q592.3 1328.6 595.0 1340.0" stroke="#1e1e1e" stroke-width="1.18" fill="none" />
<path d="M597.7 1325.9 Q603.1 1332.6 605.7 1340.0" stroke="#1e1e1e" stroke-width="1.062" fill="none" />
<ellipse cx="506.2" cy="1268.3" rx="7.0" ry="3.7" transform="rotate(0 506.2 1268.3)" stroke="#1e1e1e" stroke-width="1.298" fill="#fff"/>
<path d="M501.3 1264.9 L501.3 1267.7 L505.7 1269.9 L510.1 1267.7 L510.1 1264.9" stroke="#1e1e1e" stroke-width="1.298" fill="#fff" />
<ellipse cx="505.7" cy="1264.9" rx="4.4" ry="2.6" transform="rotate(0 505.7 1264.9)" stroke="#1e1e1e" stroke-width="1.298" fill="#fff"/>
<ellipse cx="505.7" cy="1264.6" rx="2.2" ry="1.3" transform="rotate(0 505.7 1264.6)" stroke="#1e1e1e" stroke-width="1.062" fill="none"/>
<ellipse cx="524.9" cy="1257.1" rx="7.0" ry="3.7" transform="rotate(0 524.9 1257.1)" stroke="#1e1e1e" stroke-width="1.298" fill="#fff"/>
<path d="M520.0 1253.7 L520.0 1256.5 L524.4 1258.7 L528.8 1256.5 L528.8 1253.7" stroke="#1e1e1e" stroke-width="1.298" fill="#fff" />
<ellipse cx="524.4" cy="1253.7" rx="4.4" ry="2.6" transform="rotate(0 524.4 1253.7)" stroke="#1e1e1e" stroke-width="1.298" fill="#fff"/>
<ellipse cx="524.4" cy="1253.4" rx="2.2" ry="1.3" transform="rotate(0 524.4 1253.4)" stroke="#1e1e1e" stroke-width="1.062" fill="none"/>
<ellipse cx="468.9" cy="1254.6" rx="7.0" ry="3.7" transform="rotate(0 468.9 1254.6)" stroke="#1e1e1e" stroke-width="1.298" fill="#fff"/>
<path d="M464.0 1251.2 L464.0 1254.0 L468.4 1256.2 L472.8 1254.0 L472.8 1251.2" stroke="#1e1e1e" stroke-width="1.298" fill="#fff" />
<ellipse cx="468.4" cy="1251.2" rx="4.4" ry="2.6" transform="rotate(0 468.4 1251.2)" stroke="#1e1e1e" stroke-width="1.298" fill="#fff"/>
<ellipse cx="468.4" cy="1250.9" rx="2.2" ry="1.3" transform="rotate(0 468.4 1250.9)" stroke="#1e1e1e" stroke-width="1.062" fill="none"/>
<ellipse cx="506.2" cy="1267.6" rx="7.0" ry="3.7" transform="rotate(0 506.2 1267.6)" stroke="#1e1e1e" stroke-width="1.298" fill="#fff"/>
<path d="M501.3 1264.2 L501.3 1267.0 L505.7 1269.2 L510.1 1267.0 L510.1 1264.2" stroke="#1e1e1e" stroke-width="1.298" fill="#fff" />
<ellipse cx="505.7" cy="1264.2" rx="4.4" ry="2.6" transform="rotate(0 505.7 1264.2)" stroke="#1e1e1e" stroke-width="1.298" fill="#fff"/>
<ellipse cx="505.7" cy="1263.9" rx="2.2" ry="1.3" transform="rotate(0 505.7 1263.9)" stroke="#1e1e1e" stroke-width="1.062" fill="none"/>
<ellipse cx="524.8" cy="1258.9" rx="7.0" ry="3.7" transform="rotate(0 524.8 1258.9)" stroke="#1e1e1e" stroke-width="1.298" fill="#fff"/>
<path d="M519.9 1255.5 L519.9 1258.3 L524.3 1260.5 L528.7 1258.3 L528.7 1255.5" stroke="#1e1e1e" stroke-width="1.298" fill="#fff" />
<ellipse cx="524.3" cy="1255.5" rx="4.4" ry="2.6" transform="rotate(0 524.3 1255.5)" stroke="#1e1e1e" stroke-width="1.298" fill="#fff"/>
<ellipse cx="524.3" cy="1255.2" rx="2.2" ry="1.3" transform="rotate(0 524.3 1255.2)" stroke="#1e1e1e" stroke-width="1.062" fill="none"/>
<path d="M11.5 1024.1 L345.0 1213.0 L350.0 1210.3 L1032.6 816.5 L1032.6 830.0 L350.0 1225.5 L345.0 1229.0 L340.0 1226.0 L11.5 1037.5 Z" stroke="none" stroke-width="1.18" fill="#fff" />
<path d="M11.5 1024.1 L345.0 1213.0 L291.4 1124.0 L137.3 1035.3 L131.0 1022.8 L104.0 1023.0 Z" stroke="none" stroke-width="1.18" fill="#fff" />
<path d="M11.5 1024.1 L345.0 1213.0" stroke="#1e1e1e" stroke-width="1.18" fill="none" />
<path d="M11.5 1037.5 L340.0 1226.0" stroke="#1e1e1e" stroke-width="1.18" fill="none" />
<path d="M11.5 1024.1 L11.5 1037.5" stroke="#1e1e1e" stroke-width="1.18" fill="none" />
<path d="M340 1226 Q345 1229 350 1225.5 L1032.6 830.0" stroke="#1e1e1e" stroke-width="1.18" fill="none" />
<path d="M345 1213 Q347.5 1214 350 1210.3 L1032.6 816.5" stroke="#1e1e1e" stroke-width="1.18" fill="none" />
<path d="M1032.6 816.5 L1032.6 830.0" stroke="#1e1e1e" stroke-width="1.18" fill="none" />
<path d="M805.5 679.5 L937.8 756.5" stroke="#1e1e1e" stroke-width="1.18" fill="none" />
<path d="M435.1 1153.6 L770.0 960.4 L770.0 968.0 L435.1 1161.2 Z" stroke="none" stroke-width="1.18" fill="#fff" />
<path d="M390.3 1129.6 L435.1 1152.8 L435.1 1160.6 L390.3 1135.6 Z" stroke="none" stroke-width="1.18" fill="#fff" />
<path d="M390.3 1129.6 L435.1 1152.8 L435.1 1160.6 L390.3 1135.6 L390.3 1129.6" stroke="#1e1e1e" stroke-width="1.18" fill="none" />
<path d="M435.1 1153.6 L770.0 960.4" stroke="#1e1e1e" stroke-width="1.18" fill="none" />
<path d="M390.3 1110.6 L389.0 1111.3" stroke="#1e1e1e" stroke-width="1.18" fill="none" />
<path d="M350 1210.3 L1032.6 816.5" stroke="#1e1e1e" stroke-width="1.18" fill="none" />
<path d="M238.1 960.6 L132.3 1022.1 Q127.9 1027.8 133.6 1032.8 L291.4 1124" stroke="#1e1e1e" stroke-width="1.18" fill="none" />
<path d="M259.2 965.6 L137.3 1035.3" stroke="#1e1e1e" stroke-width="1.18" fill="none" />
<path d="M107.0 964.4 L290.3 859.9 L290.3 912.1 L238.1 939.5 L238.1 951.9 L271.7 971.8 L271.7 959.4 L239.3 940.7 L165.2 983.8 L151.0 995.5 L151.0 989.2 L149.8 994.7 L107.0 972.3 Z" stroke="none" stroke-width="1.18" fill="#fff" />
<path d="M107.0 964.4 L290.3 859.9" stroke="#1e1e1e" stroke-width="1.18" fill="none" />
<path d="M107.0 964.4 L107.0 972.3 L149.8 994.7 L151.0 995.5 L151.0 989.2 L107.0 965.6" stroke="#1e1e1e" stroke-width="1.18" fill="none" />
<path d="M151.0 995.5 L103.7 1022.8" stroke="#1e1e1e" stroke-width="1.18" fill="none" />
<path d="M139.8 982.3 L151.0 976.3 L154.2 970.8 L162.2 974.8 L162.2 979.3 L151.0 985.5" stroke="#1e1e1e" stroke-width="1.062" fill="none" />
<path d="M154.2 970.8 L282.9 895.2" stroke="#1e1e1e" stroke-width="1.18" fill="none" />
<path d="M162.2 975.3 L284.1 905.9" stroke="#1e1e1e" stroke-width="1.18" fill="none" />
<path d="M163.4 980.3 L283.6 910.1" stroke="#1e1e1e" stroke-width="2.124" fill="none" />
<path d="M165.2 983.8 L238.1 941.2" stroke="#1e1e1e" stroke-width="1.062" fill="none" />
<ellipse cx="172.2" cy="963.1" rx="3.6" ry="2.2" transform="rotate(0 172.2 963.1)" stroke="#1e1e1e" stroke-width="1.18" fill="#fff"/>
<ellipse cx="172.2" cy="962.5" rx="2.0" ry="1.3" transform="rotate(0 172.2 962.5)" stroke="#1e1e1e" stroke-width="0.944" fill="none"/>
<ellipse cx="197.0" cy="949.9" rx="3.6" ry="2.2" transform="rotate(0 197.0 949.9)" stroke="#1e1e1e" stroke-width="1.18" fill="#fff"/>
<ellipse cx="197.0" cy="949.3" rx="2.0" ry="1.3" transform="rotate(0 197.0 949.3)" stroke="#1e1e1e" stroke-width="0.944" fill="none"/>
<ellipse cx="221.9" cy="935.0" rx="3.6" ry="2.2" transform="rotate(0 221.9 935.0)" stroke="#1e1e1e" stroke-width="1.18" fill="#fff"/>
<ellipse cx="221.9" cy="934.4" rx="2.0" ry="1.3" transform="rotate(0 221.9 934.4)" stroke="#1e1e1e" stroke-width="0.944" fill="none"/>
<ellipse cx="246.3" cy="920.8" rx="3.6" ry="2.2" transform="rotate(0 246.3 920.8)" stroke="#1e1e1e" stroke-width="1.18" fill="#fff"/>
<ellipse cx="246.3" cy="920.2" rx="2.0" ry="1.3" transform="rotate(0 246.3 920.2)" stroke="#1e1e1e" stroke-width="0.944" fill="none"/>
<ellipse cx="270.4" cy="906.6" rx="3.6" ry="2.2" transform="rotate(0 270.4 906.6)" stroke="#1e1e1e" stroke-width="1.18" fill="#fff"/>
<ellipse cx="270.4" cy="906.0" rx="2.0" ry="1.3" transform="rotate(0 270.4 906.0)" stroke="#1e1e1e" stroke-width="0.944" fill="none"/>
<path d="M164.4 982.8 L164.4 986.3 A4.0 2.2 0 0 0 172.4 986.3 L172.4 982.8" stroke="#1e1e1e" stroke-width="1.18" fill="#fff" />
<ellipse cx="168.4" cy="982.8" rx="4.0" ry="2.2" transform="rotate(0 168.4 982.8)" stroke="#1e1e1e" stroke-width="1.18" fill="#fff"/>
<path d="M238.1 937.5 L238.1 951.9 L294.1 984.3" stroke="#1e1e1e" stroke-width="1.18" fill="none" />
<path d="M238.1 937.5 L274.2 957.4 L294.1 946.9" stroke="#1e1e1e" stroke-width="1.18" fill="none" />
<path d="M274.2 957.4 L274.2 961.4 L294.1 972.3" stroke="#1e1e1e" stroke-width="1.062" fill="none" />
<ellipse cx="282.9" cy="952.4" rx="2.5" ry="2.5" transform="rotate(0 282.9 952.4)" stroke="#1e1e1e" stroke-width="1.062" fill="none"/>
<path d="M269.2 973.1 L279.1 979.3 L294.1 981.8" stroke="#1e1e1e" stroke-width="0.944" fill="none" />
<path d="M283.0 880.0 L283.0 948.8 A17.0 7.5 0 0 0 317.0 948.8 L317.0 880.0" stroke="#1e1e1e" stroke-width="1.18" fill="#fff" />
<ellipse cx="300.0" cy="880.0" rx="17.0" ry="7.5" transform="rotate(0 300.0 880.0)" stroke="#1e1e1e" stroke-width="1.18" fill="#fff"/>
<path d="M289.7 815.4 L289.7 882.0 A9.8 5.0 0 0 0 309.3 882.0 L309.3 815.4" stroke="#1e1e1e" stroke-width="1.18" fill="#fff" />
<ellipse cx="299.5" cy="815.4" rx="9.8" ry="5.0" transform="rotate(0 299.5 815.4)" stroke="#1e1e1e" stroke-width="1.18" fill="#fff"/>
<path d="M291.4 950.0 L291.4 1127.0" stroke="#1e1e1e" stroke-width="1.18" fill="none" />
<g transform="translate(655.8 94.4)">
<path d="M0.0 27.3 L1.5 25.0 L14.7 17.3 L17.6 16.4 L21.6 18.0 L22.3 20.4 L22.3 27.0 L28.3 27.0 L28.3 10.3 L45.0 0.6 L46.5 -0.2 L48.0 0.6 L64.7 10.3 L64.7 27.0 L70.7 27.0 L70.7 20.4 L71.4 18.0 L75.4 16.4 L78.3 17.3 L91.5 25.0 L93.0 27.3 L93.0 557.3 L76.3 567.3 L70.7 564.8 L70.7 560.0 L64.7 560.0 L64.7 573.4 L48.0 582.8 L46.5 583.5 L45.0 582.8 L28.3 573.4 L28.3 560.0 L22.3 560.0 L22.3 564.8 L18.0 567.3 L0.0 557.3 Z" stroke="none" stroke-width="1.18" fill="#fff" />
<path d="M28.3 24 L28.3 10.3 L45 0.6 Q46.5 -0.4 48 0.6 L64.7 10.3 L64.7 26" stroke="#1e1e1e" stroke-width="1.18" fill="none" />
<path d="M30.8 22 L30.8 11.8 L46.5 2.9 L62.2 11.8 L62.2 22" stroke="#1e1e1e" stroke-width="0.944" fill="none" />
<path d="M33.3 12.5 L33.3 22.5 M36 14 L36 21 M57 14 L57 21 M59.7 12.5 L59.7 22.5" stroke="#1e1e1e" stroke-width="1.062" fill="none" />
<path d="M36 14 L44 9.5 L44 5 M49 5 L49 9.5 L57 14 M44 9.5 L46.5 11 L49 9.5 M44 15.5 L44 11 M49 15.5 L49 11" stroke="#1e1e1e" stroke-width="0.944" fill="none" />
<path d="M36 21 L44.5 16 M48.5 16 L62.5 24.3 M30 28.3 L43 36 M50 36 L63 28.3 M30 28.3 L30 25 M63 28.3 L63 25" stroke="#1e1e1e" stroke-width="1.18" fill="none" />
<path d="M45 37 L45 44 M48 37 L48 44" stroke="#1e1e1e" stroke-width="1.062" fill="none" />
<ellipse cx="46.5" cy="27.3" rx="5.6" ry="3.5" transform="rotate(0 46.5 27.3)" stroke="#1e1e1e" stroke-width="1.18" fill="none"/>
<path d="M19.3 26.8 L28.3 26.8 M19.3 28.2 L30 28.2 M64.7 26.8 L73.7 26.8 M63 28.2 L73.7 28.2" stroke="#1e1e1e" stroke-width="1.062" fill="none" />
<path d="M28.3 43.4 L45 52.8 Q46.5 53.6 48 52.8 L64.7 43.4" stroke="#1e1e1e" stroke-width="1.18" fill="none" />
<path d="M30.5 43.6 L46.5 50.4 L62.5 43.6" stroke="#1e1e1e" stroke-width="0.944" fill="none" />
<path d="M28.3 43.4 L30.5 41.6 L32.5 42.2 L34.5 45.5 M64.7 43.4 L62.5 41.6 L60.5 42.2 L58.5 45.5 M39 46.8 L46.5 43.6 L54 46.8 M46.5 44 L46.5 50" stroke="#1e1e1e" stroke-width="1.062" fill="none" />
<path d="M0.0 27.3 L1.5 25.0 L14.7 17.3 L17.6 16.4 L21.6 18.0 L22.3 20.4 L22.3 27.0" stroke="#1e1e1e" stroke-width="1.18" fill="none" />
<path d="M2.9 28.4 L15.9 20.6 L19.0 21.0 L19.3 27.0" stroke="#1e1e1e" stroke-width="1.062" fill="none" />
<path d="M0.0 27.3 L0.9 29.6 L16.5 37.6 L18.0 37.0 L22.3 34.8" stroke="#1e1e1e" stroke-width="1.18" fill="none" />
<path d="M3.2 29.3 L16.5 35.3 L19.9 33.6" stroke="#1e1e1e" stroke-width="0.944" fill="none" />
<path d="M9.0 23.8 L9.0 30.5M13.6 21.5 L13.6 33.0M9.0 25.0 L17.0 31.0M13.6 32.0 L19.0 27.5" stroke="#1e1e1e" stroke-width="0.944" fill="none" />
<path d="M93.0 27.3 L91.5 25.0 L78.3 17.3 L75.4 16.4 L71.4 18.0 L70.7 20.4 L70.7 27.0" stroke="#1e1e1e" stroke-width="1.18" fill="none" />
<path d="M90.1 28.4 L77.1 20.6 L74.0 21.0 L73.7 27.0" stroke="#1e1e1e" stroke-width="1.062" fill="none" />
<path d="M93.0 27.3 L92.1 29.6 L76.5 37.6 L75.0 37.0 L70.7 34.8" stroke="#1e1e1e" stroke-width="1.18" fill="none" />
<path d="M89.8 29.3 L76.5 35.3 L73.1 33.6" stroke="#1e1e1e" stroke-width="0.944" fill="none" />
<path d="M84.0 23.8 L84.0 30.5M79.4 21.5 L79.4 33.0M84.0 25.0 L76.0 31.0M79.4 32.0 L74.0 27.5" stroke="#1e1e1e" stroke-width="0.944" fill="none" />
<path d="M0.0 27.3 L0.0 557.3" stroke="#1e1e1e" stroke-width="1.18" fill="none" />
<path d="M2.6 29.3 L2.6 559.3" stroke="#1e1e1e" stroke-width="1.062" fill="none" />
<path d="M16.0 36.8 L16.0 566.8" stroke="#1e1e1e" stroke-width="0.944" fill="none" />
<path d="M18.0 37.3 L18.0 567.3" stroke="#1e1e1e" stroke-width="2.242" fill="none" />
<path d="M22.3 34.8 L22.3 564.8" stroke="#1e1e1e" stroke-width="1.18" fill="none" />
<path d="M28.3 43.4 L28.3 573.4" stroke="#1e1e1e" stroke-width="1.18" fill="none" />
<path d="M41.3 50.6 L41.3 580.6" stroke="#888" stroke-width="1.062" fill="none" />
<path d="M50.9 51.0 L50.9 581.0" stroke="#888" stroke-width="1.062" fill="none" />
<path d="M64.7 43.4 L64.7 573.4" stroke="#1e1e1e" stroke-width="1.18" fill="none" />
<path d="M70.7 34.8 L70.7 564.8" stroke="#1e1e1e" stroke-width="1.18" fill="none" />
<path d="M73.9 36.0 L73.9 566.0" stroke="#1e1e1e" stroke-width="0.944" fill="none" />
<path d="M76.4 37.3 L76.4 567.3" stroke="#1e1e1e" stroke-width="2.242" fill="none" />
<path d="M90.4 29.3 L90.4 559.3" stroke="#1e1e1e" stroke-width="1.062" fill="none" />
<path d="M93.0 27.3 L93.0 557.3" stroke="#1e1e1e" stroke-width="1.18" fill="none" />
<path d="M93.0 557.3 L76.3 567.3 L70.7 564.8 L70.7 560.0 L64.7 560.0 L64.7 573.4 L48.0 582.8 L46.5 583.5 L45.0 582.8 L28.3 573.4 L28.3 560.0 L22.3 560.0 L22.3 564.8 L18.0 567.3 L0.0 557.3" stroke="#1e1e1e" stroke-width="1.18" fill="none" />
</g>
<path d="M936.9 757.4 L893.8 782.3 L893.8 787.1 L916.8 800.5M893.8 787.1 L935.0 764.1M895.7 783.3 L936.9 760.3" stroke="#1e1e1e" stroke-width="1.18" fill="none" />
<g transform="translate(940.5 257.9)">
<path d="M0.0 27.3 L1.5 25.0 L14.7 17.3 L17.6 16.4 L21.6 18.0 L22.3 20.4 L22.3 27.0 L28.3 27.0 L28.3 10.3 L45.0 0.6 L46.5 -0.2 L48.0 0.6 L64.7 10.3 L64.7 27.0 L70.7 27.0 L70.7 20.4 L71.4 18.0 L75.4 16.4 L78.3 17.3 L91.5 25.0 L93.0 27.3 L93.0 557.3 L76.3 567.3 L70.7 564.8 L70.7 560.0 L64.7 560.0 L64.7 573.4 L48.0 582.8 L46.5 583.5 L45.0 582.8 L28.3 573.4 L28.3 560.0 L22.3 560.0 L22.3 564.8 L18.0 567.3 L0.0 557.3 Z" stroke="none" stroke-width="1.18" fill="#fff" />
<path d="M28.3 24 L28.3 10.3 L45 0.6 Q46.5 -0.4 48 0.6 L64.7 10.3 L64.7 26" stroke="#1e1e1e" stroke-width="1.18" fill="none" />
<path d="M30.8 22 L30.8 11.8 L46.5 2.9 L62.2 11.8 L62.2 22" stroke="#1e1e1e" stroke-width="0.944" fill="none" />
<path d="M33.3 12.5 L33.3 22.5 M36 14 L36 21 M57 14 L57 21 M59.7 12.5 L59.7 22.5" stroke="#1e1e1e" stroke-width="1.062" fill="none" />
<path d="M36 14 L44 9.5 L44 5 M49 5 L49 9.5 L57 14 M44 9.5 L46.5 11 L49 9.5 M44 15.5 L44 11 M49 15.5 L49 11" stroke="#1e1e1e" stroke-width="0.944" fill="none" />
<path d="M36 21 L44.5 16 M48.5 16 L62.5 24.3 M30 28.3 L43 36 M50 36 L63 28.3 M30 28.3 L30 25 M63 28.3 L63 25" stroke="#1e1e1e" stroke-width="1.18" fill="none" />
<path d="M45 37 L45 44 M48 37 L48 44" stroke="#1e1e1e" stroke-width="1.062" fill="none" />
<ellipse cx="46.5" cy="27.3" rx="5.6" ry="3.5" transform="rotate(0 46.5 27.3)" stroke="#1e1e1e" stroke-width="1.18" fill="none"/>
<path d="M19.3 26.8 L28.3 26.8 M19.3 28.2 L30 28.2 M64.7 26.8 L73.7 26.8 M63 28.2 L73.7 28.2" stroke="#1e1e1e" stroke-width="1.062" fill="none" />
<path d="M28.3 43.4 L45 52.8 Q46.5 53.6 48 52.8 L64.7 43.4" stroke="#1e1e1e" stroke-width="1.18" fill="none" />
<path d="M30.5 43.6 L46.5 50.4 L62.5 43.6" stroke="#1e1e1e" stroke-width="0.944" fill="none" />
<path d="M28.3 43.4 L30.5 41.6 L32.5 42.2 L34.5 45.5 M64.7 43.4 L62.5 41.6 L60.5 42.2 L58.5 45.5 M39 46.8 L46.5 43.6 L54 46.8 M46.5 44 L46.5 50" stroke="#1e1e1e" stroke-width="1.062" fill="none" />
<path d="M0.0 27.3 L1.5 25.0 L14.7 17.3 L17.6 16.4 L21.6 18.0 L22.3 20.4 L22.3 27.0" stroke="#1e1e1e" stroke-width="1.18" fill="none" />
<path d="M2.9 28.4 L15.9 20.6 L19.0 21.0 L19.3 27.0" stroke="#1e1e1e" stroke-width="1.062" fill="none" />
<path d="M0.0 27.3 L0.9 29.6 L16.5 37.6 L18.0 37.0 L22.3 34.8" stroke="#1e1e1e" stroke-width="1.18" fill="none" />
<path d="M3.2 29.3 L16.5 35.3 L19.9 33.6" stroke="#1e1e1e" stroke-width="0.944" fill="none" />
<path d="M9.0 23.8 L9.0 30.5M13.6 21.5 L13.6 33.0M9.0 25.0 L17.0 31.0M13.6 32.0 L19.0 27.5" stroke="#1e1e1e" stroke-width="0.944" fill="none" />
<path d="M93.0 27.3 L91.5 25.0 L78.3 17.3 L75.4 16.4 L71.4 18.0 L70.7 20.4 L70.7 27.0" stroke="#1e1e1e" stroke-width="1.18" fill="none" />
<path d="M90.1 28.4 L77.1 20.6 L74.0 21.0 L73.7 27.0" stroke="#1e1e1e" stroke-width="1.062" fill="none" />
<path d="M93.0 27.3 L92.1 29.6 L76.5 37.6 L75.0 37.0 L70.7 34.8" stroke="#1e1e1e" stroke-width="1.18" fill="none" />
<path d="M89.8 29.3 L76.5 35.3 L73.1 33.6" stroke="#1e1e1e" stroke-width="0.944" fill="none" />
<path d="M84.0 23.8 L84.0 30.5M79.4 21.5 L79.4 33.0M84.0 25.0 L76.0 31.0M79.4 32.0 L74.0 27.5" stroke="#1e1e1e" stroke-width="0.944" fill="none" />
<path d="M0.0 27.3 L0.0 557.3" stroke="#1e1e1e" stroke-width="1.18" fill="none" />
<path d="M2.6 29.3 L2.6 559.3" stroke="#1e1e1e" stroke-width="1.062" fill="none" />
<path d="M16.0 36.8 L16.0 566.8" stroke="#1e1e1e" stroke-width="0.944" fill="none" />
<path d="M18.0 37.3 L18.0 567.3" stroke="#1e1e1e" stroke-width="2.242" fill="none" />
<path d="M22.3 34.8 L22.3 564.8" stroke="#1e1e1e" stroke-width="1.18" fill="none" />
<path d="M28.3 43.4 L28.3 573.4" stroke="#1e1e1e" stroke-width="1.18" fill="none" />
<path d="M41.3 50.6 L41.3 580.6" stroke="#1e1e1e" stroke-width="1.062" fill="none" />
<path d="M50.9 51.0 L50.9 581.0" stroke="#1e1e1e" stroke-width="1.062" fill="none" />
<path d="M64.7 43.4 L64.7 573.4" stroke="#1e1e1e" stroke-width="1.18" fill="none" />
<path d="M70.7 34.8 L70.7 564.8" stroke="#1e1e1e" stroke-width="1.18" fill="none" />
<path d="M73.9 36.0 L73.9 566.0" stroke="#1e1e1e" stroke-width="0.944" fill="none" />
<path d="M76.4 37.3 L76.4 567.3" stroke="#1e1e1e" stroke-width="2.242" fill="none" />
<path d="M90.4 29.3 L90.4 559.3" stroke="#1e1e1e" stroke-width="1.062" fill="none" />
<path d="M93.0 27.3 L93.0 557.3" stroke="#1e1e1e" stroke-width="1.18" fill="none" />
<path d="M93.0 557.3 L76.3 567.3 L70.7 564.8 L70.7 560.0 L64.7 560.0 L64.7 573.4 L48.0 582.8 L46.5 583.5 L45.0 582.8 L28.3 573.4 L28.3 560.0 L22.3 560.0 L22.3 564.8 L18.0 567.3 L0.0 557.3" stroke="#1e1e1e" stroke-width="1.18" fill="none" />
</g>
<path d="M936.9 761.2 L984.7 786.1 L987.6 790.0 L987.6 841.6 L938.8 867.5 L935.0 867.5 L892.8 843.5 L892.8 838.8 L935.0 765.1 Z" stroke="none" stroke-width="1.18" fill="#fff" />
<path d="M936.9 761.2 L984.7 786.1 L987.6 790.0 L987.6 841.6" stroke="#1e1e1e" stroke-width="1.18" fill="none" />
<path d="M938.8 763.2 L938.8 816.7 L959.8 826.3" stroke="#1e1e1e" stroke-width="1.18" fill="none" />
<path d="M938.8 816.7 L900.5 836.8" stroke="#1e1e1e" stroke-width="1.18" fill="none" />
<path d="M936.9 761.2 L936.9 766.0 L896.7 836.8" stroke="#1e1e1e" stroke-width="1.18" fill="none" />
<path d="M939.7 771.8 L901.5 837.8" stroke="#1e1e1e" stroke-width="1.062" fill="none" />
<path d="M892.8 838.8 L892.8 843.5 L935.0 867.5 L938.8 867.5 L987.6 841.6" stroke="#1e1e1e" stroke-width="1.18" fill="none" />
<path d="M892.8 838.8 L936.9 863.6 L940.7 862.7" stroke="#1e1e1e" stroke-width="1.18" fill="none" />
<path d="M936.9 863.6 L935.0 867.5M938.8 863.6 L938.8 867.5" stroke="#1e1e1e" stroke-width="0.944" fill="none" />
<path d="M982.8 790.0 L940.7 860.8" stroke="#1e1e1e" stroke-width="1.18" fill="none" />
<path d="M979.9 791.9 L944.5 851.2" stroke="#1e1e1e" stroke-width="1.062" fill="none" />
<path d="M940.7 860.8 L944.5 858.9 L984.7 791.9" stroke="#1e1e1e" stroke-width="1.062" fill="none" />
<ellipse cx="959.8" cy="802.4" rx="4.2" ry="7.5" transform="rotate(-25 959.8 802.4)" stroke="#1e1e1e" stroke-width="1.18" fill="none"/>
<path d="M957.9 797.6 L962.1 807.2" stroke="#1e1e1e" stroke-width="0.944" fill="none" />
<path d="M920.6 842.6 L940.7 831.7 Q952.2 829.2 950.3 836.8 L930.2 848.9 Q917.7 851.2 920.6 842.6 Z" stroke="#1e1e1e" stroke-width="1.18" fill="none" />
<ellipse cx="937.8" cy="841.2" rx="6.0" ry="3.6" transform="rotate(-28 937.8 841.2)" stroke="#1e1e1e" stroke-width="1.062" fill="none"/>
<path d="M923.5 843.9 L942.6 833.6" stroke="#1e1e1e" stroke-width="0.944" fill="none" />
<path d="M1004.8 814.8 L1010.6 814.8 L1010.6 822.5" stroke="#1e1e1e" stroke-width="1.062" fill="none" />
<path d="M716.8 673.1 L806.4 623.3 L821.3 633.3 L822.6 665.6 L729.2 720.3 L716.8 715.0 Z" stroke="#1e1e1e" stroke-width="1.18" fill="#fff" />
<path d="M716.8 691.7 L821.3 633.3" stroke="#1e1e1e" stroke-width="1.18" fill="none" />
<path d="M716.8 709.5 L822.6 654.4" stroke="#1e1e1e" stroke-width="1.18" fill="none" />
<path d="M717.5 691.5 L717.5 709.5 M720.5 689.8 L720.5 707.8 M723.4 688.2 L723.4 706.2 M726.4 686.5 L726.4 704.5 M729.4 684.9 L729.4 702.9 M732.3 683.2 L732.3 701.2 M735.3 681.6 L735.3 699.6 M738.3 679.9 L738.3 697.9 M741.2 678.2 L741.2 696.2 M744.2 676.6 L744.2 694.6 M747.2 674.9 L747.2 692.9 M750.1 673.3 L750.1 691.3 M753.1 671.6 L753.1 689.6 M756.1 670.0 L756.1 688.0 M759.0 668.3 L759.0 686.3 M762.0 666.6 L762.0 684.6 M765.0 665.0 L765.0 683.0 M767.9 663.3 L767.9 681.3 M770.9 661.7 L770.9 679.7 M773.8 660.0 L773.8 678.0 M776.8 658.4 L776.8 676.4 M779.8 656.7 L779.8 674.7 M782.7 655.0 L782.7 673.0 M785.7 653.4 L785.7 671.4 M788.7 651.7 L788.7 669.7 M791.6 650.1 L791.6 668.1 M794.6 648.4 L794.6 666.4 M797.6 646.8 L797.6 664.8 M800.5 645.1 L800.5 663.1 M803.5 643.4 L803.5 661.4 M806.5 641.8 L806.5 659.8 M809.4 640.1 L809.4 658.1 M812.4 638.5 L812.4 656.5 M815.4 636.8 L815.4 654.8 M818.3 635.2 L818.3 653.2 M821.3 633.5 L821.3 651.5 " stroke="#1e1e1e" stroke-width="1.593" fill="none" />
<path d="M822.6 654.4 L822.6 665.6" stroke="#1e1e1e" stroke-width="1.18" fill="none" />
<ellipse cx="767.6" cy="655.0" rx="2.2" ry="1.5" transform="rotate(0 767.6 655.0)" stroke="#1e1e1e" stroke-width="1.18" fill="none"/>
<path d="M716.8 673.1 L716.8 715.0" stroke="#1e1e1e" stroke-width="1.18" fill="none" />
<path d="M586.9 742.0 L586.9 805.0 L653.3 842.3 L660.8 845.5 L727.2 807.0 L727.2 716.0 Z" stroke="#1e1e1e" stroke-width="1.18" fill="#fff" />
<path d="M654.0 769.0 L654.0 842.5" stroke="#1e1e1e" stroke-width="1.18" fill="none" />
<path d="M660.8 769.0 L660.8 845.0" stroke="#1e1e1e" stroke-width="1.18" fill="none" />
<path d="M727.2 714.9 L727.2 807.0" stroke="#1e1e1e" stroke-width="1.888" fill="none" />
<ellipse cx="729.5" cy="812.3" rx="5.5" ry="2.3" transform="rotate(12 729.5 812.3)" stroke="#1e1e1e" stroke-width="1.062" fill="none"/>
<path d="M586.9 721.1 L586.9 731.0 L654.0 769.2 L660.8 769.2 L727.2 729.8 L727.2 716.0 L660.0 680.0 L620.0 700.0 Z" stroke="#1e1e1e" stroke-width="1.18" fill="#fff" />
<path d="M586.9 721.1 L654.0 758.4" stroke="#1e1e1e" stroke-width="1.18" fill="none" />
<path d="M660.8 758.4 L727.2 719.3" stroke="#1e1e1e" stroke-width="1.18" fill="none" />
<path d="M654.0 758.4 L654.0 769.2" stroke="#1e1e1e" stroke-width="1.18" fill="none" />
<path d="M660.8 758.4 L660.8 769.2" stroke="#1e1e1e" stroke-width="1.18" fill="none" />
<path d="M586.9 731.0 L654.0 769.2" stroke="#1e1e1e" stroke-width="1.18" fill="none" />
<path d="M660.8 769.2 L727.2 729.8" stroke="#1e1e1e" stroke-width="1.18" fill="none" />
<path d="M586.9 721.1 L586.9 742.0" stroke="#1e1e1e" stroke-width="1.18" fill="none" />
<path d="M586.9 721.1 L592 716.5 M727.2 716 L721 712" stroke="#1e1e1e" stroke-width="1.18" fill="none" />
<path d="M599.4 572.3 L601.1 569.8 L644.6 544.4 L652.1 548.7 L658.3 549.4 L664.6 545.4 L670.8 544.4 L713.1 568.6 L715.6 569.8 L715.6 726.0 L665.8 754.0 L642.2 752.0 L599.4 727.5 Z" stroke="#1e1e1e" stroke-width="1.18" fill="#fff" />
<path d="M601.1 584.7 L601.1 727.0" stroke="#1e1e1e" stroke-width="1.18" fill="none" />
<path d="M599.4 584.7 L601.1 584.7 L640 607.2 M675.5 607.2 L714.3 583.5 L715.6 583.5" stroke="#1e1e1e" stroke-width="1.18" fill="none" />
<path d="M599.4 572.3 L599.4 584.7 M715.6 569.8 L715.6 583.5" stroke="#1e1e1e" stroke-width="1.18" fill="none" />
<ellipse cx="607.3" cy="575.5" rx="3.0" ry="3.0" transform="rotate(0 607.3 575.5)" stroke="#1e1e1e" stroke-width="1.18" fill="none"/>
<ellipse cx="706.8" cy="574.8" rx="3.0" ry="3.0" transform="rotate(0 706.8 574.8)" stroke="#1e1e1e" stroke-width="1.18" fill="none"/>
<path d="M601.1 569.8 Q604 572 604.5 574 M713.1 568.6 Q709.5 570.5 709.5 573" stroke="#1e1e1e" stroke-width="1.18" fill="none" />
<path d="M601.1 587 L640 609.5 M675.5 609.5 L714.3 586" stroke="#1e1e1e" stroke-width="0.944" fill="none" />
<path d="M603 571.5 L644.6 547 M670.8 547 L712 570.5" stroke="#1e1e1e" stroke-width="0.944" fill="none" />
<path d="M642.2 613.5 Q642.5 603.5 657.5 602 Q673 603.5 673.3 613.5" stroke="#1e1e1e" stroke-width="1.18" fill="none" />
<path d="M648.4 612 Q649 606 657.5 605.3 Q666 606 665.8 612" stroke="#1e1e1e" stroke-width="1.062" fill="none" />
<path d="M653.4 611 Q654 608.5 657.6 608.3 Q661.5 608.5 662.1 611" stroke="#1e1e1e" stroke-width="0.944" fill="none" />
<path d="M599.4 614.6 L642.2 639.5 Q657.5 632 673.3 639.5 L715.6 615.8" stroke="#1e1e1e" stroke-width="1.18" fill="none" />
<path d="M642.2 613.0 L642.2 751.0" stroke="#1e1e1e" stroke-width="1.18" fill="none" />
<path d="M648.4 613.0 L648.4 751.0" stroke="#1e1e1e" stroke-width="1.18" fill="none" />
<path d="M653.4 613.0 L653.4 751.0" stroke="#1e1e1e" stroke-width="0.944" fill="none" />
<path d="M657.3 613.0 L657.3 751.0" stroke="#1e1e1e" stroke-width="0.826" fill="none" />
<path d="M662.1 613.0 L662.1 751.0" stroke="#1e1e1e" stroke-width="0.944" fill="none" />
<path d="M665.8 613.0 L665.8 751.0" stroke="#1e1e1e" stroke-width="1.18" fill="none" />
<path d="M673.3 613.0 L673.3 751.0" stroke="#1e1e1e" stroke-width="1.18" fill="none" />
<path d="M642.2 751 Q650 757 657.5 753 Q666 757 673.3 750.5" stroke="#1e1e1e" stroke-width="1.18" fill="none" />
<ellipse cx="657.3" cy="748.5" rx="3.6" ry="2.2" transform="rotate(0 657.3 748.5)" stroke="#1e1e1e" stroke-width="1.18" fill="#fff"/>
<ellipse cx="657.3" cy="747.9" rx="2.0" ry="1.3" transform="rotate(0 657.3 747.9)" stroke="#1e1e1e" stroke-width="0.944" fill="none"/>
<ellipse cx="596.0" cy="713.5" rx="3.4" ry="2.1" transform="rotate(0 596.0 713.5)" stroke="#1e1e1e" stroke-width="1.18" fill="#fff"/>
<ellipse cx="596.0" cy="712.9" rx="1.9" ry="1.2" transform="rotate(0 596.0 712.9)" stroke="#1e1e1e" stroke-width="0.944" fill="none"/>
<ellipse cx="719.5" cy="709.0" rx="3.2" ry="2.0" transform="rotate(0 719.5 709.0)" stroke="#1e1e1e" stroke-width="1.18" fill="#fff"/>
<ellipse cx="719.5" cy="708.4" rx="1.8" ry="1.1" transform="rotate(0 719.5 708.4)" stroke="#1e1e1e" stroke-width="0.944" fill="none"/>
<path d="M388.7 801.6 L494.5 746.9" stroke="#1e1e1e" stroke-width="1.18" fill="none" />
<path d="M388.7 805.4 L484.5 755.6" stroke="#1e1e1e" stroke-width="1.062" fill="none" />
<path d="M541.7 710.8 L599.0 682.2" stroke="#1e1e1e" stroke-width="1.18" fill="none" />
<path d="M541.7 774.3 L586.5 749.4" stroke="#1e1e1e" stroke-width="1.18" fill="none" />
<path d="M483.3 749.4 L483.3 804.1" stroke="#1e1e1e" stroke-width="1.062" fill="none" />
<path d="M472.1 759.3 L483.3 768.8" stroke="#1e1e1e" stroke-width="1.062" fill="none" />
<ellipse cx="452.2" cy="773.0" rx="3.4" ry="2.1" transform="rotate(0 452.2 773.0)" stroke="#1e1e1e" stroke-width="1.18" fill="#fff"/>
<ellipse cx="452.2" cy="772.4" rx="1.9" ry="1.2" transform="rotate(0 452.2 772.4)" stroke="#1e1e1e" stroke-width="0.944" fill="none"/>
<ellipse cx="464.6" cy="765.6" rx="3.4" ry="2.1" transform="rotate(0 464.6 765.6)" stroke="#1e1e1e" stroke-width="1.18" fill="#fff"/>
<ellipse cx="464.6" cy="765.0" rx="1.9" ry="1.2" transform="rotate(0 464.6 765.0)" stroke="#1e1e1e" stroke-width="0.944" fill="none"/>
<ellipse cx="470.8" cy="784.2" rx="3.4" ry="2.1" transform="rotate(0 470.8 784.2)" stroke="#1e1e1e" stroke-width="1.18" fill="#fff"/>
<ellipse cx="470.8" cy="783.6" rx="1.9" ry="1.2" transform="rotate(0 470.8 783.6)" stroke="#1e1e1e" stroke-width="0.944" fill="none"/>
<ellipse cx="480.8" cy="777.3" rx="1.8" ry="1.1" transform="rotate(0 480.8 777.3)" stroke="#1e1e1e" stroke-width="0.944" fill="none"/>
<ellipse cx="481.5" cy="796.2" rx="1.8" ry="1.1" transform="rotate(0 481.5 796.2)" stroke="#1e1e1e" stroke-width="0.944" fill="none"/>
<path d="M388.7 704.6 L394.9 707.1 L394.9 736.9 L388.7 734.5" stroke="#1e1e1e" stroke-width="1.18" fill="none" />
<path d="M388.7 718.3 L394.9 720.8" stroke="#1e1e1e" stroke-width="1.062" fill="none" />
<path d="M388.7 860.9 L593.0 751.3 L610.2 758.1 L611.4 789.2 L388.7 909.9 Z" stroke="none" stroke-width="1.18" fill="#fff" />
<path d="M388.7 861.4 L593.0 751.3" stroke="#1e1e1e" stroke-width="1.18" fill="none" />
<path d="M593.0 751.3 L610.2 758.1" stroke="#1e1e1e" stroke-width="1.18" fill="none" />
<path d="M388.7 876.9 L610.2 758.1" stroke="#1e1e1e" stroke-width="1.18" fill="none" />
<path d="M388.7 876.9 L388.7 898.9 M391.7 875.3 L391.7 897.3 M394.7 873.7 L394.7 895.7 M397.7 872.1 L397.7 894.1 M400.7 870.5 L400.7 892.5 M403.7 868.9 L403.7 890.9 M406.7 867.3 L406.7 889.3 M409.7 865.7 L409.7 887.7 M412.6 864.1 L412.6 886.1 M415.6 862.5 L415.6 884.5 M418.6 860.8 L418.6 882.8 M421.6 859.2 L421.6 881.2 M424.6 857.6 L424.6 879.6 M427.6 856.0 L427.6 878.0 M430.6 854.4 L430.6 876.4 M433.6 852.8 L433.6 874.8 M436.6 851.2 L436.6 873.2 M439.6 849.6 L439.6 871.6 M442.6 848.0 L442.6 870.0 M445.6 846.4 L445.6 868.4 M448.6 844.8 L448.6 866.8 M451.6 843.2 L451.6 865.2 M454.6 841.6 L454.6 863.6 M457.5 840.0 L457.5 862.0 M460.5 838.4 L460.5 860.4 M463.5 836.8 L463.5 858.8 M466.5 835.2 L466.5 857.2 M469.5 833.6 L469.5 855.6 M472.5 831.9 L472.5 853.9 M475.5 830.3 L475.5 852.3 M478.5 828.7 L478.5 850.7 M481.5 827.1 L481.5 849.1 M484.5 825.5 L484.5 847.5 M487.5 823.9 L487.5 845.9 M490.5 822.3 L490.5 844.3 M493.5 820.7 L493.5 842.7 M496.5 819.1 L496.5 841.1 M499.5 817.5 L499.5 839.5 M502.4 815.9 L502.4 837.9 M505.4 814.3 L505.4 836.3 M508.4 812.7 L508.4 834.7 M511.4 811.1 L511.4 833.1 M514.4 809.5 L514.4 831.5 M517.4 807.9 L517.4 829.9 M520.4 806.3 L520.4 828.3 M523.4 804.7 L523.4 826.7 M526.4 803.1 L526.4 825.1 M529.4 801.4 L529.4 823.4 M532.4 799.8 L532.4 821.8 M535.4 798.2 L535.4 820.2 M538.4 796.6 L538.4 818.6 M541.4 795.0 L541.4 817.0 M544.3 793.4 L544.3 815.4 M547.3 791.8 L547.3 813.8 M550.3 790.2 L550.3 812.2 M553.3 788.6 L553.3 810.6 M556.3 787.0 L556.3 809.0 M559.3 785.4 L559.3 807.4 M562.3 783.8 L562.3 805.8 M565.3 782.2 L565.3 804.2 M568.3 780.6 L568.3 802.6 M571.3 779.0 L571.3 801.0 M574.3 777.4 L574.3 799.4 M577.3 775.8 L577.3 797.8 M580.3 774.2 L580.3 796.2 M583.3 772.5 L583.3 794.5 M586.3 770.9 L586.3 792.9 M589.2 769.3 L589.2 791.3 M592.2 767.7 L592.2 789.7 M595.2 766.1 L595.2 788.1 M598.2 764.5 L598.2 786.5 M601.2 762.9 L601.2 784.9 M604.2 761.3 L604.2 783.3 M607.2 759.7 L607.2 781.7 M610.2 758.1 L610.2 780.1 " stroke="#1e1e1e" stroke-width="1.593" fill="none" />
<path d="M388.7 898.9 L610.8 780.1" stroke="#1e1e1e" stroke-width="1.18" fill="none" />
<path d="M388.7 907.9 L611.4 789.1" stroke="#1e1e1e" stroke-width="1.18" fill="none" />
<path d="M610.8 758.1 L611.4 789.1" stroke="#1e1e1e" stroke-width="1.18" fill="none" />
<ellipse cx="584.0" cy="761.3" rx="2.3" ry="1.5" transform="rotate(0 584.0 761.3)" stroke="#1e1e1e" stroke-width="0.944" fill="none"/>
<ellipse cx="401.1" cy="866.3" rx="2.3" ry="1.5" transform="rotate(0 401.1 866.3)" stroke="#1e1e1e" stroke-width="0.944" fill="none"/>
<ellipse cx="394.9" cy="851.4" rx="0.1" ry="0.1" transform="rotate(0 394.9 851.4)" stroke="#1e1e1e" stroke-width="0.944" fill="none"/>
<path d="M611.4 791.7 L611.4 802.9 L599.0 797.2" stroke="#1e1e1e" stroke-width="1.18" fill="none" />
<path d="M541.7 831.5 L569.1 816.6" stroke="#1e1e1e" stroke-width="1.062" fill="none" />
<path d="M569.1 816.6 L640.0 855.1" stroke="#1e1e1e" stroke-width="1.18" fill="none" />
<path d="M586.5 805.4 L640.0 834.5" stroke="#1e1e1e" stroke-width="1.18" fill="none" />
<path d="M491.5 702.1 L491.5 749.4" stroke="#1e1e1e" stroke-width="1.18" fill="none" />
<path d="M484.5 749.4 Q487.0 756.4 495.7 757.3" stroke="#1e1e1e" stroke-width="1.18" fill="none" />
<path d="M495.7 694.0 L495.7 868.8 A22.4 8.7 0 0 0 540.5 868.8 L540.5 694.0" stroke="#1e1e1e" stroke-width="1.18" fill="#fff" />
<path d="M489.4 658.7 L494.0 652.4 L508.9 644.4 L520.4 642.1 L530.7 644.4 L547.4 656.4 L547.4 685.1 L528.4 694.9 L520.4 697.8 L508.9 695.7 L508.9 687.4 L489.4 667.9 Z" stroke="#1e1e1e" stroke-width="1.18" fill="#fff" />
<path d="M489.4 660.1 L508.9 674.2 L528.4 675.4 L547.4 663.3" stroke="#1e1e1e" stroke-width="1.18" fill="none" />
<path d="M508.9 674.2 L508.9 695.7M528.4 675.4 L528.4 694.9" stroke="#1e1e1e" stroke-width="1.18" fill="none" />
<path d="M491.7 664.5 L491.7 669.0 L508.9 680.5" stroke="#1e1e1e" stroke-width="1.062" fill="none" />
<ellipse cx="515.2" cy="689.7" rx="5.6" ry="3.8" transform="rotate(-15 515.2 689.7)" stroke="#1e1e1e" stroke-width="1.18" fill="none"/>
<path d="M480.2 677.7 L495.1 669.6 L504.3 673.6 L507.8 689.7 L489.4 698.9 L477.9 694.3 Z" stroke="none" stroke-width="1.18" fill="#fff" />
<path d="M480.2 677.7 L495.1 669.6 L500.9 671.6M489.4 698.9 L507.8 689.7" stroke="#1e1e1e" stroke-width="1.18" fill="none" />
<path d="M500.9 671.6 Q510.1 680.5 507.8 689.7" stroke="#1e1e1e" stroke-width="1.18" fill="none" />
<path d="M473.3 685.1 L479.6 679.2 L490.5 685.1 L491.9 694.3 L485.9 701.4 L475.8 698.0 Z" stroke="#1e1e1e" stroke-width="1.77" fill="#fff" />
<path d="M479.6 679.2 L481.3 689.7 L475.8 698.0M481.3 689.7 L491.9 694.3" stroke="#1e1e1e" stroke-width="1.652" fill="none" />
<ellipse cx="485.4" cy="690.3" rx="4.5" ry="10.5" transform="rotate(-25 485.4 690.3)" stroke="#1e1e1e" stroke-width="1.77" fill="none"/>
<ellipse cx="474.5" cy="694.3" rx="4.2" ry="9.0" transform="rotate(-25 474.5 694.3)" stroke="#1e1e1e" stroke-width="1.77" fill="#fff"/>
<path d="M465.8 692.6 L473.9 688.3M470.1 703.5 L476.5 699.8" stroke="#1e1e1e" stroke-width="1.298" fill="none" />
<ellipse cx="468.1" cy="698.0" rx="3.6" ry="7.2" transform="rotate(-25 468.1 698.0)" stroke="#1e1e1e" stroke-width="1.77" fill="#fff"/>
<ellipse cx="458.9" cy="704.6" rx="5.9" ry="7.2" transform="rotate(-25 458.9 704.6)" stroke="#1e1e1e" stroke-width="1.77" fill="#fff"/>
<ellipse cx="460.7" cy="703.5" rx="5.0" ry="6.6" transform="rotate(-25 460.7 703.5)" stroke="#1e1e1e" stroke-width="1.18" fill="none"/>
<path d="M457.2 704.1 L458.9 706.4 L458.4 703.5" stroke="#1e1e1e" stroke-width="1.416" fill="none" />
<path d="M490.5 700.3 L499.7 695.7 L506.0 698.9 L510.3 709.2 L512.3 713.8 L499.7 721.0 L495.4 715.6 L490.8 704.1 Z" stroke="#1e1e1e" stroke-width="1.534" fill="#fff" />
<path d="M497.2 715.9 L511.4 710.2" stroke="#1e1e1e" stroke-width="2.832" fill="none" />
<path d="M498.0 718.7 L511.8 712.7" stroke="#1e1e1e" stroke-width="1.77" fill="none" />
<path d="M494.0 709.2 L508.9 703.5" stroke="#1e1e1e" stroke-width="1.062" fill="none" />
<path d="M541.1 712.7 L560.0 702.9" stroke="#1e1e1e" stroke-width="1.18" fill="none" />
<path d="M388.7 903.4 L433.5 881.1" stroke="#1e1e1e" stroke-width="1.18" fill="none" />
<path d="M388.7 917.1 L427.3 897.7" stroke="#1e1e1e" stroke-width="1.18" fill="none" />
<path d="M388.7 906.7 L429.8 886.0" stroke="#1e1e1e" stroke-width="0.944" fill="none" />
<path d="M388.7 944.5 L388.7 1032.8 L445.9 1059.0 L529.3 1011.7 L569.1 1027.9 L640.0 989.3 L749.3 919.7 L689.6 884.9 L603.9 840.0 L539.2 864.9 L479.5 909.7 Z" stroke="none" stroke-width="1.18" fill="#fff" />
<path d="M388.7 1032.8 L443.4 1057.2 L445.9 1059.0 L448.4 1058.0 L529.3 1011.7 L534.3 1009.7 L539.2 1012.4 L569.1 1027.4 L571.6 1028.4 L574.1 1026.6 L640.0 989.3" stroke="#1e1e1e" stroke-width="1.18" fill="none" />
<path d="M443.0 1057.9 L443.0 1069.4 L448.7 1068.5 L527.2 1022.9" stroke="#1e1e1e" stroke-width="1.18" fill="none" />
<path d="M448.7 1057.4 L448.7 1068.5" stroke="#1e1e1e" stroke-width="1.062" fill="none" />
<path d="M388.7 1042.8 L443.4 1067.7" stroke="#1e1e1e" stroke-width="1.18" fill="none" />
<path d="M528.1 1010.1 L528.1 1022.9" stroke="#1e1e1e" stroke-width="1.18" fill="none" />
<path d="M541.5 1011.4 L541.5 1025.4 L567.4 1039.4" stroke="#1e1e1e" stroke-width="1.18" fill="none" />
<path d="M534.8 1008.2 L534.8 1016.8" stroke="#1e1e1e" stroke-width="0.944" fill="none" />
<path d="M568.3 1026.4 L568.3 1049.7 L573.1 1048.4 L573.1 1027.3" stroke="#1e1e1e" stroke-width="1.18" fill="none" />
<path d="M546.3 1027.3 L546.3 1035.0 L567.4 1046.5" stroke="#1e1e1e" stroke-width="1.062" fill="none" />
<path d="M573.1 1037.8 L596.1 1024.4 L596.1 1031.1 L574.1 1044.0" stroke="#1e1e1e" stroke-width="1.062" fill="none" />
<path d="M601.8 1021.6 L601.8 1030.2M574.1 1047.4 L620.0 1020.6" stroke="#1e1e1e" stroke-width="1.062" fill="none" />
<path d="M573.1 1040.1 L620.0 1013.0" stroke="#1e1e1e" stroke-width="1.062" fill="none" />
<path d="M448.7 1074.2 L527.2 1029.2" stroke="#1e1e1e" stroke-width="1.062" fill="none" />
<path d="M460.2 1062.3 L460.2 1071.3 L479.3 1061.2 L479.3 1055.1M510.0 1034.0 L510.0 1040.1M488.9 1047.4 L491.2 1053.2" stroke="#1e1e1e" stroke-width="1.062" fill="none" />
<path d="M448.7 1068.5 L448.7 1080.0M427.7 1074.2 L427.7 1089.5" stroke="#1e1e1e" stroke-width="1.062" fill="none" />
<path d="M420.0 1106.7 L542.5 1035.9 L542.5 1030.6" stroke="#1e1e1e" stroke-width="1.18" fill="none" />
<path d="M420.0 1122.1 L559.7 1042.6" stroke="#1e1e1e" stroke-width="2.36" fill="none" />
<path d="M420.0 1126.8 L561.6 1047.4" stroke="#1e1e1e" stroke-width="1.062" fill="none" />
<path d="M420.0 1112.5 L546.3 1040.1" stroke="#1e1e1e" stroke-width="0.944" fill="none" />
<path d="M420.0 1137.4 L561.6 1056.0" stroke="#1e1e1e" stroke-width="1.18" fill="none" />
<ellipse cx="428.6" cy="1111.5" rx="4.0" ry="2.5" transform="rotate(0 428.6 1111.5)" stroke="#1e1e1e" stroke-width="1.18" fill="#fff"/>
<ellipse cx="428.6" cy="1110.9" rx="2.2" ry="1.4" transform="rotate(0 428.6 1110.9)" stroke="#1e1e1e" stroke-width="0.944" fill="none"/>
<ellipse cx="454.4" cy="1097.2" rx="4.0" ry="2.5" transform="rotate(0 454.4 1097.2)" stroke="#1e1e1e" stroke-width="1.18" fill="#fff"/>
<ellipse cx="454.4" cy="1096.6" rx="2.2" ry="1.4" transform="rotate(0 454.4 1096.6)" stroke="#1e1e1e" stroke-width="0.944" fill="none"/>
<ellipse cx="477.4" cy="1082.8" rx="4.0" ry="2.5" transform="rotate(0 477.4 1082.8)" stroke="#1e1e1e" stroke-width="1.18" fill="#fff"/>
<ellipse cx="477.4" cy="1082.2" rx="2.2" ry="1.4" transform="rotate(0 477.4 1082.2)" stroke="#1e1e1e" stroke-width="0.944" fill="none"/>
<ellipse cx="502.3" cy="1068.5" rx="4.0" ry="2.5" transform="rotate(0 502.3 1068.5)" stroke="#1e1e1e" stroke-width="1.18" fill="#fff"/>
<ellipse cx="502.3" cy="1067.9" rx="2.2" ry="1.4" transform="rotate(0 502.3 1067.9)" stroke="#1e1e1e" stroke-width="0.944" fill="none"/>
<ellipse cx="526.2" cy="1054.1" rx="4.0" ry="2.5" transform="rotate(0 526.2 1054.1)" stroke="#1e1e1e" stroke-width="1.18" fill="#fff"/>
<ellipse cx="526.2" cy="1053.5" rx="2.2" ry="1.4" transform="rotate(0 526.2 1053.5)" stroke="#1e1e1e" stroke-width="0.944" fill="none"/>
<ellipse cx="552.1" cy="1040.1" rx="4.0" ry="2.5" transform="rotate(0 552.1 1040.1)" stroke="#1e1e1e" stroke-width="1.18" fill="#fff"/>
<ellipse cx="552.1" cy="1039.5" rx="2.2" ry="1.4" transform="rotate(0 552.1 1039.5)" stroke="#1e1e1e" stroke-width="0.944" fill="none"/>
<ellipse cx="518.8" cy="973.1" rx="13.0" ry="8.2" transform="rotate(0 518.8 973.1)" stroke="#1e1e1e" stroke-width="1.18" fill="none"/>
<ellipse cx="534.3" cy="981.3" rx="2.0" ry="1.5" transform="rotate(0 534.3 981.3)" stroke="#1e1e1e" stroke-width="0.944" fill="none"/>
<ellipse cx="557.2" cy="1009.9" rx="3.7" ry="2.3" transform="rotate(0 557.2 1009.9)" stroke="#1e1e1e" stroke-width="1.18" fill="#fff"/>
<ellipse cx="557.2" cy="1009.3" rx="2.0" ry="1.3" transform="rotate(0 557.2 1009.3)" stroke="#1e1e1e" stroke-width="0.944" fill="none"/>
<ellipse cx="569.1" cy="1003.0" rx="3.7" ry="2.3" transform="rotate(0 569.1 1003.0)" stroke="#1e1e1e" stroke-width="1.18" fill="#fff"/>
<ellipse cx="569.1" cy="1002.4" rx="2.0" ry="1.3" transform="rotate(0 569.1 1002.4)" stroke="#1e1e1e" stroke-width="0.944" fill="none"/>
<ellipse cx="576.6" cy="1020.4" rx="3.7" ry="2.3" transform="rotate(0 576.6 1020.4)" stroke="#1e1e1e" stroke-width="1.18" fill="#fff"/>
<ellipse cx="576.6" cy="1019.8" rx="2.0" ry="1.3" transform="rotate(0 576.6 1019.8)" stroke="#1e1e1e" stroke-width="0.944" fill="none"/>
<ellipse cx="587.8" cy="1012.9" rx="3.7" ry="2.3" transform="rotate(0 587.8 1012.9)" stroke="#1e1e1e" stroke-width="1.18" fill="#fff"/>
<ellipse cx="587.8" cy="1012.3" rx="2.0" ry="1.3" transform="rotate(0 587.8 1012.3)" stroke="#1e1e1e" stroke-width="0.944" fill="none"/>
<ellipse cx="417.3" cy="1008.7" rx="2.4" ry="1.6" transform="rotate(0 417.3 1008.7)" stroke="#1e1e1e" stroke-width="0.944" fill="none"/>
<ellipse cx="459.1" cy="1008.7" rx="2.4" ry="1.6" transform="rotate(0 459.1 1008.7)" stroke="#1e1e1e" stroke-width="0.944" fill="none"/>
<ellipse cx="418.6" cy="1031.1" rx="2.4" ry="1.6" transform="rotate(0 418.6 1031.1)" stroke="#1e1e1e" stroke-width="0.944" fill="none"/>
<ellipse cx="458.4" cy="1031.1" rx="2.4" ry="1.6" transform="rotate(0 458.4 1031.1)" stroke="#1e1e1e" stroke-width="0.944" fill="none"/>
<ellipse cx="470.8" cy="944.5" rx="2.4" ry="1.6" transform="rotate(0 470.8 944.5)" stroke="#1e1e1e" stroke-width="0.944" fill="none"/>
<ellipse cx="470.8" cy="922.1" rx="2.4" ry="1.6" transform="rotate(0 470.8 922.1)" stroke="#1e1e1e" stroke-width="0.944" fill="none"/>
<path d="M493.2 903.4 L531.8 924.6 L538.0 928.3 L580.3 902.2 L580.3 896.0 L549.2 879.8 L504.4 877.3 Z" stroke="#1e1e1e" stroke-width="1.18" fill="#fff" />
<path d="M493.2 899.7 L531.8 920.9 L538.0 924.6 L580.3 897.7" stroke="#1e1e1e" stroke-width="1.062" fill="none" />
<path d="M531.8 920.9 L531.8 924.6M538.0 924.6 L538.0 928.3" stroke="#1e1e1e" stroke-width="0.944" fill="none" />
<ellipse cx="487.0" cy="862.9" rx="7.0" ry="3.2" transform="rotate(0 487.0 862.9)" stroke="#1e1e1e" stroke-width="1.18" fill="#fff"/>
<path d="M481.8 857.4 L481.8 861.4 A5.2 2.9 0 0 0 492.2 861.4 L492.2 857.4" stroke="#1e1e1e" stroke-width="1.18" fill="#fff" />
<ellipse cx="487.0" cy="857.4" rx="5.2" ry="2.9" transform="rotate(0 487.0 857.4)" stroke="#1e1e1e" stroke-width="1.18" fill="#fff"/>
<ellipse cx="487.0" cy="857.4" rx="2.9" ry="1.7" transform="rotate(0 487.0 857.4)" stroke="#1e1e1e" stroke-width="0.944" fill="none"/>
<path d="M495.0 863.6 L495.0 899.7 L509.4 905.9 L529.3 902.7 L546.2 889.8 L546.2 861.1 Z" stroke="#1e1e1e" stroke-width="1.18" fill="#fff" />
<path d="M509.4 887.3 L509.4 905.9M529.3 884.8 L529.3 902.7" stroke="#1e1e1e" stroke-width="1.062" fill="none" />
<path d="M495.0 883.5 Q509.4 889.8 519.3 888.5 Q539.2 884.8 546.2 874.8" stroke="#1e1e1e" stroke-width="1.062" fill="none" />
<ellipse cx="518.1" cy="868.8" rx="22.4" ry="8.7" transform="rotate(0 518.1 868.8)" stroke="#1e1e1e" stroke-width="1.18" fill="#fff"/>
<path d="M495.7 871.8 A22.4 8.7 0 0 0 540.5 871.8" stroke="#1e1e1e" stroke-width="1.888" fill="none" />
<path d="M495.7 860 L495.7 868.8 A22.4 8.7 0 0 0 540.5 868.8 L540.5 860" stroke="#1e1e1e" stroke-width="1.18" fill="#fff" />
<ellipse cx="512.4" cy="890.5" rx="5.6" ry="5.6" transform="rotate(0 512.4 890.5)" stroke="#1e1e1e" stroke-width="1.18" fill="#fff"/>
<ellipse cx="512.9" cy="890.5" rx="3.0" ry="3.6" transform="rotate(0 512.9 890.5)" stroke="#1e1e1e" stroke-width="1.062" fill="none"/>
<ellipse cx="549.2" cy="900.0" rx="8.4" ry="3.8" transform="rotate(0 549.2 900.0)" stroke="#1e1e1e" stroke-width="1.18" fill="#fff"/>
<path d="M543.0 893.5 L543.0 898.5 A6.2 3.4 0 0 0 555.4 898.5 L555.4 893.5" stroke="#1e1e1e" stroke-width="1.18" fill="#fff" />
<ellipse cx="549.2" cy="893.5" rx="6.2" ry="3.4" transform="rotate(0 549.2 893.5)" stroke="#1e1e1e" stroke-width="1.18" fill="#fff"/>
<ellipse cx="549.2" cy="893.5" rx="3.4" ry="2.0" transform="rotate(0 549.2 893.5)" stroke="#1e1e1e" stroke-width="0.944" fill="none"/>
<path d="M470.8 893.5 L479.5 886.0 L496.9 883.5 L496.9 902.2 L479.5 910.9 L470.8 907.2 Z" stroke="none" stroke-width="1.18" fill="#fff" />
<path d="M478.3 888.5 Q487.0 879.8 499.4 883.5 L499.4 899.7 L490.7 905.2 L489.5 893.5" stroke="#1e1e1e" stroke-width="1.18" fill="none" />
<ellipse cx="478.3" cy="896.0" rx="4.5" ry="9.0" transform="rotate(-30 478.3 896.0)" stroke="#1e1e1e" stroke-width="1.534" fill="#fff"/>
<ellipse cx="474.1" cy="899.7" rx="3.8" ry="8.0" transform="rotate(-30 474.1 899.7)" stroke="#1e1e1e" stroke-width="1.534" fill="#fff"/>
<ellipse cx="501.9" cy="891.0" rx="3.5" ry="6.0" transform="rotate(0 501.9 891.0)" stroke="#1e1e1e" stroke-width="1.18" fill="#fff"/>
<path d="M432.8 877.3 L432.8 939.5 A17.4 8.2 0 0 0 467.6 939.5 L467.6 877.3" stroke="#1e1e1e" stroke-width="1.18" fill="#fff" />
<ellipse cx="450.2" cy="877.3" rx="17.4" ry="8.2" transform="rotate(0 450.2 877.3)" stroke="#1e1e1e" stroke-width="1.18" fill="#fff"/>
<ellipse cx="450.2" cy="877.3" rx="13.6" ry="6.4" transform="rotate(0 450.2 877.3)" stroke="#1e1e1e" stroke-width="1.18" fill="none"/>
<path d="M439.6 829.0 L439.6 878.8 A10.6 5.8 0 0 0 460.8 878.8 L460.8 829.0" stroke="#1e1e1e" stroke-width="1.18" fill="#fff" />
<ellipse cx="450.2" cy="829.0" rx="10.6" ry="5.8" transform="rotate(0 450.2 829.0)" stroke="#1e1e1e" stroke-width="1.18" fill="#fff"/>
<path d="M419.7 961.9 L419.7 1024.1 A18.0 8.5 0 0 0 455.7 1024.1 L455.7 961.9" stroke="#1e1e1e" stroke-width="1.18" fill="#fff" />
<ellipse cx="437.7" cy="961.9" rx="18.0" ry="8.5" transform="rotate(0 437.7 961.9)" stroke="#1e1e1e" stroke-width="1.18" fill="#fff"/>
<ellipse cx="437.7" cy="961.9" rx="14.0" ry="6.6" transform="rotate(0 437.7 961.9)" stroke="#1e1e1e" stroke-width="1.18" fill="none"/>
<path d="M427.5 898.5 L427.5 963.4 A10.2 5.6 0 0 0 447.9 963.4 L447.9 898.5" stroke="#1e1e1e" stroke-width="1.18" fill="#fff" />
<ellipse cx="437.7" cy="898.5" rx="10.2" ry="5.6" transform="rotate(0 437.7 898.5)" stroke="#1e1e1e" stroke-width="1.18" fill="#fff"/>
<ellipse cx="399.9" cy="991.6" rx="10.8" ry="5.0" transform="rotate(0 399.9 991.6)" stroke="#1e1e1e" stroke-width="1.18" fill="#fff"/>
<path d="M391.9 983.1 L391.9 990.1 A8.0 4.4 0 0 0 407.9 990.1 L407.9 983.1" stroke="#1e1e1e" stroke-width="1.18" fill="#fff" />
<ellipse cx="399.9" cy="983.1" rx="8.0" ry="4.4" transform="rotate(0 399.9 983.1)" stroke="#1e1e1e" stroke-width="1.18" fill="#fff"/>
<ellipse cx="399.9" cy="983.1" rx="4.4" ry="2.6" transform="rotate(0 399.9 983.1)" stroke="#1e1e1e" stroke-width="0.944" fill="none"/>
<path d="M388.7 999.2 L417.3 986.8M388.7 1014.2 L419.8 999.2" stroke="#1e1e1e" stroke-width="1.062" fill="none" />
<path d="M388.7 947.0 L394.9 950.7 L394.9 979.3M388.7 959.4 L394.9 963.2" stroke="#1e1e1e" stroke-width="1.062" fill="none" />
<path d="M571.2 816.9 L650.8 861.7" stroke="#1e1e1e" stroke-width="1.18" fill="none" />
<path d="M560.0 702.4 L587.4 690.0" stroke="#1e1e1e" stroke-width="1.18" fill="none" />
<path d="M689.6 884.9 L751.8 919.3 L751.8 939.9 L622.1 1012.6 L622.0 934.0 Z" stroke="none" stroke-width="1.18" fill="#fff" />
<path d="M689.6 884.9 L749.3 918.7M750.9 919.3 L751.8 923.6 L751.8 939.9" stroke="#1e1e1e" stroke-width="1.18" fill="none" />
<path d="M620.0 999.4 L750.9 924.4" stroke="#1e1e1e" stroke-width="1.18" fill="none" />
<path d="M620.0 1008.8 L749.2 939.9" stroke="#1e1e1e" stroke-width="1.18" fill="none" />
<path d="M620.0 1014.0 L662.2 993.3" stroke="#1e1e1e" stroke-width="2.124" fill="none" />
<path d="M713.9 948.6 L713.9 965.8 L721.6 962.3 L721.6 955.4M723.3 956.3 L744.0 945.1 L744.0 950.3 L723.3 961.5 L723.3 956.3M748.3 939.1 L748.3 946.8 L744.0 949.4" stroke="#1e1e1e" stroke-width="1.062" fill="none" />
<path d="M708.7 962.3 L713.9 965.8" stroke="#1e1e1e" stroke-width="1.062" fill="none" />
<ellipse cx="709.6" cy="921.9" rx="4.0" ry="2.5" transform="rotate(0 709.6 921.9)" stroke="#1e1e1e" stroke-width="1.18" fill="#fff"/>
<ellipse cx="709.6" cy="921.3" rx="2.2" ry="1.4" transform="rotate(0 709.6 921.3)" stroke="#1e1e1e" stroke-width="0.944" fill="none"/>
<ellipse cx="722.5" cy="915.0" rx="4.0" ry="2.5" transform="rotate(0 722.5 915.0)" stroke="#1e1e1e" stroke-width="1.18" fill="#fff"/>
<ellipse cx="722.5" cy="914.4" rx="2.2" ry="1.4" transform="rotate(0 722.5 914.4)" stroke="#1e1e1e" stroke-width="0.944" fill="none"/>
<ellipse cx="728.5" cy="932.2" rx="4.0" ry="2.5" transform="rotate(0 728.5 932.2)" stroke="#1e1e1e" stroke-width="1.18" fill="#fff"/>
<ellipse cx="728.5" cy="931.6" rx="2.2" ry="1.4" transform="rotate(0 728.5 931.6)" stroke="#1e1e1e" stroke-width="0.944" fill="none"/>
<ellipse cx="740.6" cy="925.3" rx="4.0" ry="2.5" transform="rotate(0 740.6 925.3)" stroke="#1e1e1e" stroke-width="1.18" fill="#fff"/>
<ellipse cx="740.6" cy="924.7" rx="2.2" ry="1.4" transform="rotate(0 740.6 924.7)" stroke="#1e1e1e" stroke-width="0.944" fill="none"/>
<ellipse cx="649.3" cy="891.7" rx="2.4" ry="1.5" transform="rotate(0 649.3 891.7)" stroke="#1e1e1e" stroke-width="0.944" fill="none"/>
<ellipse cx="688.9" cy="891.7" rx="2.4" ry="1.5" transform="rotate(0 688.9 891.7)" stroke="#1e1e1e" stroke-width="0.944" fill="none"/>
<ellipse cx="649.3" cy="915.0" rx="2.4" ry="1.5" transform="rotate(0 649.3 915.0)" stroke="#1e1e1e" stroke-width="0.944" fill="none"/>
<ellipse cx="688.5" cy="915.0" rx="2.4" ry="1.5" transform="rotate(0 688.5 915.0)" stroke="#1e1e1e" stroke-width="0.944" fill="none"/>
<path d="M650.7 849.2 L650.7 906.5 A18.0 8.5 0 0 0 686.7 906.5 L686.7 849.2" stroke="#1e1e1e" stroke-width="1.18" fill="#fff" />
<ellipse cx="668.7" cy="849.2" rx="18.0" ry="8.5" transform="rotate(0 668.7 849.2)" stroke="#1e1e1e" stroke-width="1.18" fill="#fff"/>
<ellipse cx="668.7" cy="849.2" rx="14.0" ry="6.6" transform="rotate(0 668.7 849.2)" stroke="#1e1e1e" stroke-width="1.18" fill="none"/>
<path d="M658.2 800.7 L658.2 850.7 A10.5 5.8 0 0 0 679.2 850.7 L679.2 800.7" stroke="#1e1e1e" stroke-width="1.18" fill="#fff" />
<ellipse cx="668.7" cy="800.7" rx="10.5" ry="5.8" transform="rotate(0 668.7 800.7)" stroke="#1e1e1e" stroke-width="1.18" fill="#fff"/>
<path d="M750.9 915.8 L756.1 919.6 L778.5 911.5 L788.8 912.4 L791.4 915.8 L768.1 927.0" stroke="#1e1e1e" stroke-width="1.18" fill="none" />
<path d="M752.6 927.0 L768.1 922.7 L767.3 928.8 L752.6 933.9" stroke="#1e1e1e" stroke-width="2.006" fill="none" />
<ellipse cx="750.0" cy="915.8" rx="3.0" ry="1.9" transform="rotate(0 750.0 915.8)" stroke="#1e1e1e" stroke-width="1.18" fill="#fff"/>
<ellipse cx="750.0" cy="915.2" rx="1.7" ry="1.0" transform="rotate(0 750.0 915.2)" stroke="#1e1e1e" stroke-width="0.944" fill="none"/>
<path d="M764.7 921.9 L780.2 914.1 L787.9 914.6" stroke="#1e1e1e" stroke-width="0.944" fill="none" />
<path d="M637.2 964.1 L669.1 945.1 L694.9 962.3 L694.9 976.1 L663.1 995.1 L662.2 981.3 L637.2 967.5 Z" stroke="#1e1e1e" stroke-width="1.18" fill="#fff" />
<path d="M637.2 964.1 L662.2 980.4 L694.9 962.3M662.2 980.4 L663.1 995.1M665.1 981.3 L665.6 993.3" stroke="#1e1e1e" stroke-width="1.18" fill="none" />
<ellipse cx="651.9" cy="964.4" rx="7.0" ry="3.2" transform="rotate(0 651.9 964.4)" stroke="#1e1e1e" stroke-width="1.18" fill="#fff"/>
<path d="M646.7 958.9 L646.7 962.9 A5.2 2.9 0 0 0 657.1 962.9 L657.1 958.9" stroke="#1e1e1e" stroke-width="1.18" fill="#fff" />
<ellipse cx="651.9" cy="958.9" rx="5.2" ry="2.9" transform="rotate(0 651.9 958.9)" stroke="#1e1e1e" stroke-width="1.18" fill="#fff"/>
<ellipse cx="651.9" cy="958.9" rx="2.9" ry="1.7" transform="rotate(0 651.9 958.9)" stroke="#1e1e1e" stroke-width="0.944" fill="none"/>
<ellipse cx="669.1" cy="954.1" rx="7.0" ry="3.2" transform="rotate(0 669.1 954.1)" stroke="#1e1e1e" stroke-width="1.18" fill="#fff"/>
<path d="M663.9 948.6 L663.9 952.6 A5.2 2.9 0 0 0 674.3 952.6 L674.3 948.6" stroke="#1e1e1e" stroke-width="1.18" fill="#fff" />
<ellipse cx="669.1" cy="948.6" rx="5.2" ry="2.9" transform="rotate(0 669.1 948.6)" stroke="#1e1e1e" stroke-width="1.18" fill="#fff"/>
<ellipse cx="669.1" cy="948.6" rx="2.9" ry="1.7" transform="rotate(0 669.1 948.6)" stroke="#1e1e1e" stroke-width="0.944" fill="none"/>
<path d="M657.0 967.5 L665.6 971.3M675.1 958.0 L682.9 962.0" stroke="#1e1e1e" stroke-width="2.832" fill="none" />
<path d="M663.1 995.1 L682.9 1010.6 L688.0 1010.6 L716.5 993.3 L714.7 987.3 L694.9 976.1" stroke="#1e1e1e" stroke-width="1.18" fill="#fff" />
<path d="M667.4 994.2 L685.4 1007.1 L713.0 991.6" stroke="#1e1e1e" stroke-width="1.062" fill="none" />
<path d="M698.4 977.0 L711.3 972.7 L718.2 983.0 L706.1 988.2 Z" stroke="#1e1e1e" stroke-width="2.124" fill="#fff" />
<ellipse cx="709.6" cy="980.4" rx="5.0" ry="5.5" transform="rotate(0 709.6 980.4)" stroke="#1e1e1e" stroke-width="1.77" fill="none"/>
<path d="M716.5 979.6 L716.5 989.9 L721.6 993.3 L742.3 979.6 L742.3 970.1 L732.0 963.2 L721.6 967.5 Z" stroke="#1e1e1e" stroke-width="1.18" fill="#fff" />
<ellipse cx="726.8" cy="970.1" rx="3.8" ry="2.4" transform="rotate(0 726.8 970.1)" stroke="#1e1e1e" stroke-width="1.18" fill="#fff"/>
<ellipse cx="726.8" cy="969.5" rx="2.1" ry="1.3" transform="rotate(0 726.8 969.5)" stroke="#1e1e1e" stroke-width="0.944" fill="none"/>
<path d="M716.5 979.6 L723.3 983.9 L742.3 972.7M723.3 983.9 L722.0 993.0" stroke="#1e1e1e" stroke-width="1.062" fill="none" />
<path d="M738.8 965.8 L756.1 957.5 L758.6 959.8 L742.3 968.4" stroke="#1e1e1e" stroke-width="1.062" fill="none" />
<path d="M658.5 1046 L658.5 1160 Q660 1172 669 1173 Q678 1172 679.6 1160 L679.6 1033" stroke="#1e1e1e" stroke-width="1.18" fill="none" />
<path d="M461.0 1158.0 L461.0 1190.0" stroke="#1e1e1e" stroke-width="1.18" fill="none" />
<ellipse cx="465.0" cy="1228.0" rx="27.0" ry="14.5" transform="rotate(0 465.0 1228.0)" stroke="#1e1e1e" stroke-width="1.18" fill="#fff"/>
<path d="M438 1231 A27 14.5 0 0 0 492 1231" stroke="#1e1e1e" stroke-width="1.062" fill="none" />
<path d="M448.9 1192.0 L448.9 1238.0 A10.4 5.0 0 0 0 469.7 1238.0 L469.7 1192.0" stroke="#1e1e1e" stroke-width="1.18" fill="#fff" />
<ellipse cx="459.3" cy="1192.0" rx="10.4" ry="5.0" transform="rotate(0 459.3 1192.0)" stroke="#1e1e1e" stroke-width="1.18" fill="#fff"/>
<ellipse cx="452.0" cy="1214.0" rx="1.5" ry="2.2" transform="rotate(0 452.0 1214.0)" stroke="#1e1e1e" stroke-width="0.944" fill="none"/>
<ellipse cx="452.0" cy="1237.0" rx="1.5" ry="2.2" transform="rotate(0 452.0 1237.0)" stroke="#1e1e1e" stroke-width="0.944" fill="none"/>
<ellipse cx="472.0" cy="1218.0" rx="1.4" ry="2.0" transform="rotate(0 472.0 1218.0)" stroke="#1e1e1e" stroke-width="0.944" fill="none"/>
<path d="M417.3 1229.3 L417.3 1241.8 L429.8 1249.2M394.9 1226.8 L404.9 1231.8 L404.9 1239.3" stroke="#1e1e1e" stroke-width="1.062" fill="none" />
<path d="M428.5 1176.5 L448.4 1165.0 L448.4 1289.0 L428.5 1289.0 Z" stroke="none" stroke-width="1.18" fill="#fff" />
<path d="M428.5 1176.5 L428.5 1286.5M448.4 1165.0 L448.4 1286.5" stroke="#1e1e1e" stroke-width="1.18" fill="none" />
<path d="M428.5 1286.6 A10 4 0 0 0 448.4 1286.6" stroke="#1e1e1e" stroke-width="1.062" fill="none" />
<ellipse cx="395.4" cy="1210.3" rx="7.0" ry="3.7" transform="rotate(0 395.4 1210.3)" stroke="#1e1e1e" stroke-width="1.298" fill="#fff"/>
<path d="M390.5 1206.9 L390.5 1209.7 L394.9 1211.9 L399.3 1209.7 L399.3 1206.9" stroke="#1e1e1e" stroke-width="1.298" fill="#fff" />
<ellipse cx="394.9" cy="1206.9" rx="4.4" ry="2.6" transform="rotate(0 394.9 1206.9)" stroke="#1e1e1e" stroke-width="1.298" fill="#fff"/>
<ellipse cx="394.9" cy="1206.6" rx="2.2" ry="1.3" transform="rotate(0 394.9 1206.6)" stroke="#1e1e1e" stroke-width="1.062" fill="none"/>
<ellipse cx="467.6" cy="1242.7" rx="5.1" ry="2.7" transform="rotate(0 467.6 1242.7)" stroke="#1e1e1e" stroke-width="1.298" fill="#fff"/>
<path d="M463.9 1239.3 L463.9 1242.1 L467.1 1244.3 L470.3 1242.1 L470.3 1239.3" stroke="#1e1e1e" stroke-width="1.298" fill="#fff" />
<ellipse cx="467.1" cy="1239.3" rx="3.2" ry="1.9" transform="rotate(0 467.1 1239.3)" stroke="#1e1e1e" stroke-width="1.298" fill="#fff"/>
<ellipse cx="467.1" cy="1239.0" rx="1.6" ry="1.0" transform="rotate(0 467.1 1239.0)" stroke="#1e1e1e" stroke-width="1.062" fill="none"/>
<path d="M380.0 1219.4 L390.0 1214.4 L390.0 1225.6 L404.9 1233.1M391.2 1239.3 L391.2 1224.4" stroke="#1e1e1e" stroke-width="1.062" fill="none" />
<path d="M389.2 1046.8 L396.8 1043.8 L406.0 1048.4 L406.0 1053.0 L418.3 1059.1 L427.5 1062.9 L428.2 1075.9 L417.5 1080.5 L417.5 1094.3 L403.0 1102.0 L389.2 1103.5" stroke="#1e1e1e" stroke-width="1.18" fill="none" />
<path d="M406.0 1054.5 L407.6 1062.2 L415.2 1066.0M410.6 1055.3 L412.2 1064.5M414.5 1057.6 L416.0 1066.8" stroke="#1e1e1e" stroke-width="1.77" fill="none" />
<ellipse cx="422.1" cy="1068.3" rx="4.5" ry="7.0" transform="rotate(-15 422.1 1068.3)" stroke="#1e1e1e" stroke-width="1.652" fill="none"/>
<path d="M390.0 1065.2 Q401.4 1075.9 398.4 1097.4" stroke="#1e1e1e" stroke-width="1.888" fill="none" />
<path d="M403.0 1080.5 L416.0 1075.2M403.0 1091.3 L416.8 1085.9M416.8 1080.5 L428.2 1075.9M417.5 1088.2 L428.2 1083.6 L428.2 1075.9" stroke="#1e1e1e" stroke-width="1.062" fill="none" />
<path d="M396.4 1118.1 L396.4 1121.6 A5.0 3.0 0 0 0 406.4 1121.6 L406.4 1118.1" stroke="#1e1e1e" stroke-width="1.18" fill="#fff" />
<ellipse cx="401.4" cy="1118.1" rx="5.0" ry="3.0" transform="rotate(0 401.4 1118.1)" stroke="#1e1e1e" stroke-width="1.18" fill="#fff"/>
<path d="M409.1 1120.4 L418.3 1124.9 L418.3 1131.8 L409.1 1126.8 L409.1 1120.4 L418.3 1115.8" stroke="#1e1e1e" stroke-width="1.18" fill="none" />
<path d="M389.2 1111.9 L447.4 1077.8" stroke="#1e1e1e" stroke-width="1.18" fill="none" />
<path d="M397.6 1131.8 L409.1 1126.2M412.9 1137.2 L419.8 1133.8" stroke="#1e1e1e" stroke-width="1.062" fill="none" />
<g transform="translate(11.1 465.6)">
<path d="M0.0 27.3 L1.5 25.0 L14.7 17.3 L17.6 16.4 L21.6 18.0 L22.3 20.4 L22.3 27.0 L28.3 27.0 L28.3 10.3 L45.0 0.6 L46.5 -0.2 L48.0 0.6 L64.7 10.3 L64.7 27.0 L70.7 27.0 L70.7 20.4 L71.4 18.0 L75.4 16.4 L78.3 17.3 L91.5 25.0 L93.0 27.3 L93.0 557.3 L76.3 567.3 L70.7 564.8 L70.7 560.0 L64.7 560.0 L64.7 573.4 L48.0 582.8 L46.5 583.5 L45.0 582.8 L28.3 573.4 L28.3 560.0 L22.3 560.0 L22.3 564.8 L18.0 567.3 L0.0 557.3 Z" stroke="none" stroke-width="1.18" fill="#fff" />
<path d="M28.3 24 L28.3 10.3 L45 0.6 Q46.5 -0.4 48 0.6 L64.7 10.3 L64.7 26" stroke="#1e1e1e" stroke-width="1.18" fill="none" />
<path d="M30.8 22 L30.8 11.8 L46.5 2.9 L62.2 11.8 L62.2 22" stroke="#1e1e1e" stroke-width="0.944" fill="none" />
<path d="M33.3 12.5 L33.3 22.5 M36 14 L36 21 M57 14 L57 21 M59.7 12.5 L59.7 22.5" stroke="#1e1e1e" stroke-width="1.062" fill="none" />
<path d="M36 14 L44 9.5 L44 5 M49 5 L49 9.5 L57 14 M44 9.5 L46.5 11 L49 9.5 M44 15.5 L44 11 M49 15.5 L49 11" stroke="#1e1e1e" stroke-width="0.944" fill="none" />
<path d="M36 21 L44.5 16 M48.5 16 L62.5 24.3 M30 28.3 L43 36 M50 36 L63 28.3 M30 28.3 L30 25 M63 28.3 L63 25" stroke="#1e1e1e" stroke-width="1.18" fill="none" />
<path d="M45 37 L45 44 M48 37 L48 44" stroke="#1e1e1e" stroke-width="1.062" fill="none" />
<ellipse cx="46.5" cy="27.3" rx="5.6" ry="3.5" transform="rotate(0 46.5 27.3)" stroke="#1e1e1e" stroke-width="1.18" fill="none"/>
<path d="M19.3 26.8 L28.3 26.8 M19.3 28.2 L30 28.2 M64.7 26.8 L73.7 26.8 M63 28.2 L73.7 28.2" stroke="#1e1e1e" stroke-width="1.062" fill="none" />
<path d="M28.3 43.4 L45 52.8 Q46.5 53.6 48 52.8 L64.7 43.4" stroke="#1e1e1e" stroke-width="1.18" fill="none" />
<path d="M30.5 43.6 L46.5 50.4 L62.5 43.6" stroke="#1e1e1e" stroke-width="0.944" fill="none" />
<path d="M28.3 43.4 L30.5 41.6 L32.5 42.2 L34.5 45.5 M64.7 43.4 L62.5 41.6 L60.5 42.2 L58.5 45.5 M39 46.8 L46.5 43.6 L54 46.8 M46.5 44 L46.5 50" stroke="#1e1e1e" stroke-width="1.062" fill="none" />
<path d="M0.0 27.3 L1.5 25.0 L14.7 17.3 L17.6 16.4 L21.6 18.0 L22.3 20.4 L22.3 27.0" stroke="#1e1e1e" stroke-width="1.18" fill="none" />
<path d="M2.9 28.4 L15.9 20.6 L19.0 21.0 L19.3 27.0" stroke="#1e1e1e" stroke-width="1.062" fill="none" />
<path d="M0.0 27.3 L0.9 29.6 L16.5 37.6 L18.0 37.0 L22.3 34.8" stroke="#1e1e1e" stroke-width="1.18" fill="none" />
<path d="M3.2 29.3 L16.5 35.3 L19.9 33.6" stroke="#1e1e1e" stroke-width="0.944" fill="none" />
<path d="M9.0 23.8 L9.0 30.5M13.6 21.5 L13.6 33.0M9.0 25.0 L17.0 31.0M13.6 32.0 L19.0 27.5" stroke="#1e1e1e" stroke-width="0.944" fill="none" />
<path d="M93.0 27.3 L91.5 25.0 L78.3 17.3 L75.4 16.4 L71.4 18.0 L70.7 20.4 L70.7 27.0" stroke="#1e1e1e" stroke-width="1.18" fill="none" />
<path d="M90.1 28.4 L77.1 20.6 L74.0 21.0 L73.7 27.0" stroke="#1e1e1e" stroke-width="1.062" fill="none" />
<path d="M93.0 27.3 L92.1 29.6 L76.5 37.6 L75.0 37.0 L70.7 34.8" stroke="#1e1e1e" stroke-width="1.18" fill="none" />
<path d="M89.8 29.3 L76.5 35.3 L73.1 33.6" stroke="#1e1e1e" stroke-width="0.944" fill="none" />
<path d="M84.0 23.8 L84.0 30.5M79.4 21.5 L79.4 33.0M84.0 25.0 L76.0 31.0M79.4 32.0 L74.0 27.5" stroke="#1e1e1e" stroke-width="0.944" fill="none" />
<path d="M0.0 27.3 L0.0 557.3" stroke="#1e1e1e" stroke-width="1.18" fill="none" />
<path d="M2.6 29.3 L2.6 559.3" stroke="#1e1e1e" stroke-width="1.062" fill="none" />
<path d="M16.0 36.8 L16.0 566.8" stroke="#1e1e1e" stroke-width="0.944" fill="none" />
<path d="M18.0 37.3 L18.0 567.3" stroke="#1e1e1e" stroke-width="2.242" fill="none" />
<path d="M22.3 34.8 L22.3 564.8" stroke="#1e1e1e" stroke-width="1.18" fill="none" />
<path d="M28.3 43.4 L28.3 573.4" stroke="#1e1e1e" stroke-width="1.18" fill="none" />
<path d="M41.3 50.6 L41.3 580.6" stroke="#1e1e1e" stroke-width="1.062" fill="none" />
<path d="M50.9 51.0 L50.9 581.0" stroke="#1e1e1e" stroke-width="1.062" fill="none" />
<path d="M64.7 43.4 L64.7 573.4" stroke="#1e1e1e" stroke-width="1.18" fill="none" />
<path d="M70.7 34.8 L70.7 564.8" stroke="#1e1e1e" stroke-width="1.18" fill="none" />
<path d="M73.9 36.0 L73.9 566.0" stroke="#1e1e1e" stroke-width="0.944" fill="none" />
<path d="M76.4 37.3 L76.4 567.3" stroke="#1e1e1e" stroke-width="2.242" fill="none" />
<path d="M90.4 29.3 L90.4 559.3" stroke="#1e1e1e" stroke-width="1.062" fill="none" />
<path d="M93.0 27.3 L93.0 557.3" stroke="#1e1e1e" stroke-width="1.18" fill="none" />
<path d="M93.0 557.3 L76.3 567.3 L70.7 564.8 L70.7 560.0 L64.7 560.0 L64.7 573.4 L48.0 582.8 L46.5 583.5 L45.0 582.8 L28.3 573.4 L28.3 560.0 L22.3 560.0 L22.3 564.8 L18.0 567.3 L0.0 557.3" stroke="#1e1e1e" stroke-width="1.18" fill="none" />
</g>
<g transform="translate(295.9 630.3)">
<path d="M0.0 27.3 L1.5 25.0 L14.7 17.3 L17.6 16.4 L21.6 18.0 L22.3 20.4 L22.3 27.0 L28.3 27.0 L28.3 10.3 L45.0 0.6 L46.5 -0.2 L48.0 0.6 L64.7 10.3 L64.7 27.0 L70.7 27.0 L70.7 20.4 L71.4 18.0 L75.4 16.4 L78.3 17.3 L91.5 25.0 L93.0 27.3 L93.0 557.3 L76.3 567.3 L70.7 564.8 L70.7 560.0 L64.7 560.0 L64.7 573.4 L48.0 582.8 L46.5 583.5 L45.0 582.8 L28.3 573.4 L28.3 560.0 L22.3 560.0 L22.3 564.8 L18.0 567.3 L0.0 557.3 Z" stroke="none" stroke-width="1.18" fill="#fff" />
<path d="M28.3 24 L28.3 10.3 L45 0.6 Q46.5 -0.4 48 0.6 L64.7 10.3 L64.7 26" stroke="#1e1e1e" stroke-width="1.18" fill="none" />
<path d="M30.8 22 L30.8 11.8 L46.5 2.9 L62.2 11.8 L62.2 22" stroke="#1e1e1e" stroke-width="0.944" fill="none" />
<path d="M33.3 12.5 L33.3 22.5 M36 14 L36 21 M57 14 L57 21 M59.7 12.5 L59.7 22.5" stroke="#1e1e1e" stroke-width="1.062" fill="none" />
<path d="M36 14 L44 9.5 L44 5 M49 5 L49 9.5 L57 14 M44 9.5 L46.5 11 L49 9.5 M44 15.5 L44 11 M49 15.5 L49 11" stroke="#1e1e1e" stroke-width="0.944" fill="none" />
<path d="M36 21 L44.5 16 M48.5 16 L62.5 24.3 M30 28.3 L43 36 M50 36 L63 28.3 M30 28.3 L30 25 M63 28.3 L63 25" stroke="#1e1e1e" stroke-width="1.18" fill="none" />
<path d="M45 37 L45 44 M48 37 L48 44" stroke="#1e1e1e" stroke-width="1.062" fill="none" />
<ellipse cx="46.5" cy="27.3" rx="5.6" ry="3.5" transform="rotate(0 46.5 27.3)" stroke="#1e1e1e" stroke-width="1.18" fill="none"/>
<path d="M19.3 26.8 L28.3 26.8 M19.3 28.2 L30 28.2 M64.7 26.8 L73.7 26.8 M63 28.2 L73.7 28.2" stroke="#1e1e1e" stroke-width="1.062" fill="none" />
<path d="M28.3 43.4 L45 52.8 Q46.5 53.6 48 52.8 L64.7 43.4" stroke="#1e1e1e" stroke-width="1.18" fill="none" />
<path d="M30.5 43.6 L46.5 50.4 L62.5 43.6" stroke="#1e1e1e" stroke-width="0.944" fill="none" />
<path d="M28.3 43.4 L30.5 41.6 L32.5 42.2 L34.5 45.5 M64.7 43.4 L62.5 41.6 L60.5 42.2 L58.5 45.5 M39 46.8 L46.5 43.6 L54 46.8 M46.5 44 L46.5 50" stroke="#1e1e1e" stroke-width="1.062" fill="none" />
<path d="M0.0 27.3 L1.5 25.0 L14.7 17.3 L17.6 16.4 L21.6 18.0 L22.3 20.4 L22.3 27.0" stroke="#1e1e1e" stroke-width="1.18" fill="none" />
<path d="M2.9 28.4 L15.9 20.6 L19.0 21.0 L19.3 27.0" stroke="#1e1e1e" stroke-width="1.062" fill="none" />
<path d="M0.0 27.3 L0.9 29.6 L16.5 37.6 L18.0 37.0 L22.3 34.8" stroke="#1e1e1e" stroke-width="1.18" fill="none" />
<path d="M3.2 29.3 L16.5 35.3 L19.9 33.6" stroke="#1e1e1e" stroke-width="0.944" fill="none" />
<path d="M9.0 23.8 L9.0 30.5M13.6 21.5 L13.6 33.0M9.0 25.0 L17.0 31.0M13.6 32.0 L19.0 27.5" stroke="#1e1e1e" stroke-width="0.944" fill="none" />
<path d="M93.0 27.3 L91.5 25.0 L78.3 17.3 L75.4 16.4 L71.4 18.0 L70.7 20.4 L70.7 27.0" stroke="#1e1e1e" stroke-width="1.18" fill="none" />
<path d="M90.1 28.4 L77.1 20.6 L74.0 21.0 L73.7 27.0" stroke="#1e1e1e" stroke-width="1.062" fill="none" />
<path d="M93.0 27.3 L92.1 29.6 L76.5 37.6 L75.0 37.0 L70.7 34.8" stroke="#1e1e1e" stroke-width="1.18" fill="none" />
<path d="M89.8 29.3 L76.5 35.3 L73.1 33.6" stroke="#1e1e1e" stroke-width="0.944" fill="none" />
<path d="M84.0 23.8 L84.0 30.5M79.4 21.5 L79.4 33.0M84.0 25.0 L76.0 31.0M79.4 32.0 L74.0 27.5" stroke="#1e1e1e" stroke-width="0.944" fill="none" />
<path d="M0.0 27.3 L0.0 557.3" stroke="#1e1e1e" stroke-width="1.18" fill="none" />
<path d="M2.6 29.3 L2.6 559.3" stroke="#1e1e1e" stroke-width="1.062" fill="none" />
<path d="M16.0 36.8 L16.0 566.8" stroke="#1e1e1e" stroke-width="0.944" fill="none" />
<path d="M18.0 37.3 L18.0 567.3" stroke="#1e1e1e" stroke-width="2.242" fill="none" />
<path d="M22.3 34.8 L22.3 564.8" stroke="#1e1e1e" stroke-width="1.18" fill="none" />
<path d="M28.3 43.4 L28.3 573.4" stroke="#1e1e1e" stroke-width="1.18" fill="none" />
<path d="M41.3 50.6 L41.3 580.6" stroke="#1e1e1e" stroke-width="1.062" fill="none" />
<path d="M50.9 51.0 L50.9 581.0" stroke="#1e1e1e" stroke-width="1.062" fill="none" />
<path d="M64.7 43.4 L64.7 573.4" stroke="#1e1e1e" stroke-width="1.18" fill="none" />
<path d="M70.7 34.8 L70.7 564.8" stroke="#1e1e1e" stroke-width="1.18" fill="none" />
<path d="M73.9 36.0 L73.9 566.0" stroke="#1e1e1e" stroke-width="0.944" fill="none" />
<path d="M76.4 37.3 L76.4 567.3" stroke="#1e1e1e" stroke-width="2.242" fill="none" />
<path d="M90.4 29.3 L90.4 559.3" stroke="#1e1e1e" stroke-width="1.062" fill="none" />
<path d="M93.0 27.3 L93.0 557.3" stroke="#1e1e1e" stroke-width="1.18" fill="none" />
<path d="M93.0 557.3 L76.3 567.3 L70.7 564.8 L70.7 560.0 L64.7 560.0 L64.7 573.4 L48.0 582.8 L46.5 583.5 L45.0 582.8 L28.3 573.4 L28.3 560.0 L22.3 560.0 L22.3 564.8 L18.0 567.3 L0.0 557.3" stroke="#1e1e1e" stroke-width="1.18" fill="none" />
</g>
<text x="607.0" y="53.0" font-size="57" fill="#555" stroke="#fff" stroke-width="0.9">1</text>
<text x="527.9" y="472.7" font-size="57" fill="#555" stroke="#fff" stroke-width="0.9">3</text>
<text x="369.0" y="545.9" font-size="57" fill="#555" stroke="#fff" stroke-width="0.9">13</text>
<text x="856.9" y="573.3" font-size="57" fill="#555" stroke="#fff" stroke-width="0.9">5</text>
<text x="863.7" y="649.3" font-size="57" fill="#555" stroke="#fff" stroke-width="0.9">2</text>
<text x="943.4" y="946.0" font-size="57" fill="#555" stroke="#fff" stroke-width="0.9">90</text>
<text x="904.8" y="992.0" font-size="57" fill="#555" stroke="#fff" stroke-width="0.9">7</text>
<text x="831.0" y="1028.4" font-size="57" fill="#555" stroke="#fff" stroke-width="0.9">10</text>
<text x="766.6" y="1064.0" font-size="57" fill="#555" stroke="#fff" stroke-width="0.9">11</text>
<text x="735.5" y="1106.8" font-size="57" fill="#555" stroke="#fff" stroke-width="0.9">9</text>
<text x="597.4" y="1122.6" font-size="57" fill="#555" stroke="#fff" stroke-width="0.9">14</text>
<text x="805.6" y="1124.0" font-size="57" fill="#555" stroke="#fff" stroke-width="0.9">21</text>
<text x="805.6" y="1176.5" font-size="57" fill="#555" stroke="#fff" stroke-width="0.9">22</text>
<text x="807.6" y="1235.0" font-size="57" fill="#555" stroke="#fff" stroke-width="0.9">17</text>
<text x="619.1" y="1295.7" font-size="57" fill="#555" stroke="#fff" stroke-width="0.9">23</text>
<text x="670.2" y="1337.4" font-size="57" fill="#555" stroke="#fff" stroke-width="0.9">25</text>
<text x="668.7" y="1386.2" font-size="57" fill="#555" stroke="#fff" stroke-width="0.9">24</text>
<text x="662.9" y="1432.0" font-size="57" fill="#555" stroke="#fff" stroke-width="0.9">26</text>
<text x="653.9" y="1492.4" font-size="57" fill="#555" stroke="#fff" stroke-width="0.9">16</text>
<text x="145.3" y="1378.8" font-size="57" fill="#555" stroke="#fff" stroke-width="0.9">19</text>
<text x="202.9" y="1431.6" font-size="57" fill="#555" stroke="#fff" stroke-width="0.9">20</text>
<text x="249.4" y="1479.0" font-size="57" fill="#555" stroke="#fff" stroke-width="0.9">15</text>
<text x="307.6" y="1518.5" font-size="57" fill="#555" stroke="#fff" stroke-width="0.9">18</text>
<text x="382.9" y="1558.0" font-size="57" fill="#555" stroke="#fff" stroke-width="0.9">27</text>
<path d="M637.3 38.3 C660 38 672 60 686 88 S705 135 716.7 153" stroke="#777" stroke-width="1.062" fill="none" />
<path d="M561 455.9 C577 455 586 462 592 475 C603 495 610 512 618.4 529 S640 572 648.5 586" stroke="#777" stroke-width="1.062" fill="none" />
<path d="M430.3 529.7 C445 530 455 535 462 546 C474 565 480 585 486.3 603.7 S500 655 516.5 691.3" stroke="#777" stroke-width="1.062" fill="none" />
<path d="M857 559 C835 560 822 585 812 610 S800 640 795.5 647.6" stroke="#777" stroke-width="1.062" fill="none" />
<path d="M859 634 C840 635 836 665 824 711" stroke="#777" stroke-width="1.062" fill="none" />
<path d="M941 930.7 C880 928 830 885 790 850 S730 800 702 783" stroke="#777" stroke-width="1.062" fill="none" />
<path d="M904 977.6 C850 978 800 950 747 917" stroke="#777" stroke-width="1.062" fill="none" />
<path d="M830.6 1012.8 C790 1012 765 995 738.5 976" stroke="#777" stroke-width="1.062" fill="none" />
<path d="M767 1049.6 C735 1048 722 1020 705 994" stroke="#777" stroke-width="1.062" fill="none" />
<path d="M731.8 1091.5 C690 1090 620 1075 547.6 1055" stroke="#777" stroke-width="1.062" fill="none" />
<path d="M599.5 1106.5 C580 1108 577 1140 567.7 1167" stroke="#777" stroke-width="1.062" fill="none" />
<path d="M799 1108.7 C760 1112 730 1140 710 1165 S685 1195 672 1205.7" stroke="#777" stroke-width="1.062" fill="none" />
<path d="M800 1161 C775 1162 755 1180 730.6 1194.5" stroke="#777" stroke-width="1.062" fill="none" />
<path d="M800 1217 C782 1222 770 1245 742.6 1274.6" stroke="#777" stroke-width="1.062" fill="none" />
<path d="M614.8 1281.8 C598 1280 590 1268 586 1261.7 S575 1248 567.5 1238.8" stroke="#777" stroke-width="1.062" fill="none" />
<path d="M666 1323.5 C630 1322 600 1298 546 1270.3" stroke="#777" stroke-width="1.062" fill="none" />
<path d="M663.7 1372.3 C630 1370 612 1338 576 1289" stroke="#777" stroke-width="1.062" fill="none" />
<path d="M659.3 1416.8 C625 1412 612 1370 599 1326.3" stroke="#777" stroke-width="1.062" fill="none" />
<path d="M653.6 1477 C620 1470 612 1410 602 1335" stroke="#777" stroke-width="1.062" fill="none" />
<path d="M209 1363 C262 1362 295 1315 322 1280 S340 1250 345 1238" stroke="#777" stroke-width="1.062" fill="none" />
<path d="M266.3 1416 C310 1412 325 1350 356.3 1299.3" stroke="#777" stroke-width="1.062" fill="none" />
<path d="M310.3 1464 C352 1460 365 1410 390.7 1364.4" stroke="#777" stroke-width="1.062" fill="none" />
<path d="M367.8 1504 C420 1498 438 1440 450 1390 S470 1310 484.5 1282" stroke="#777" stroke-width="1.062" fill="none" />
<path d="M444.3 1543 C485 1538 497 1495 506 1460 S525 1385 534.3 1354.8" stroke="#777" stroke-width="1.062" fill="none" />
</svg>
</body></html>
